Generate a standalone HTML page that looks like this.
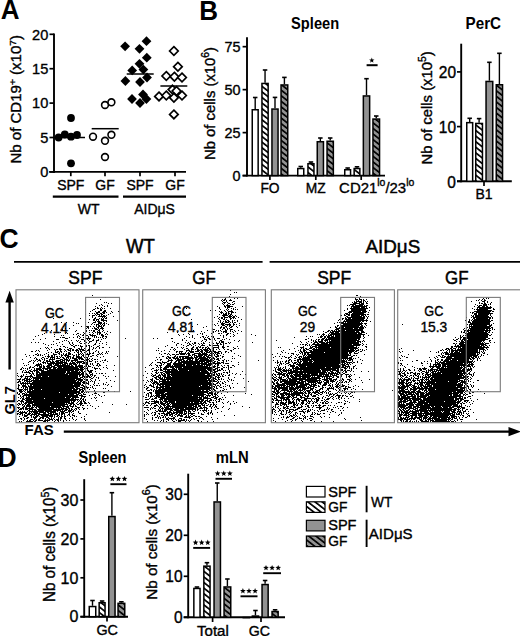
<!DOCTYPE html>
<html><head><meta charset="utf-8"><style>
html,body{margin:0;padding:0;background:#fff;width:520px;height:636px;overflow:hidden}
svg{display:block}
text{font-family:"Liberation Sans", sans-serif;fill:#000;stroke:#000;stroke-width:.35px}
text[font-weight=bold]{stroke-width:0}
</style></head><body>
<svg width="520" height="636" viewBox="0 0 520 636">
<rect width="520" height="636" fill="#fff"/>
<defs>
<pattern id="hw" patternUnits="userSpaceOnUse" width="4.4" height="4.4" patternTransform="rotate(-52)"><rect width="4.4" height="4.4" fill="#fff"/><rect width="1.7" height="4.4" fill="#000"/></pattern>
<pattern id="hg" patternUnits="userSpaceOnUse" width="4.4" height="4.4" patternTransform="rotate(-52)"><rect width="4.4" height="4.4" fill="#929292"/><rect width="1.7" height="4.4" fill="#000"/></pattern>
</defs>
<text transform="translate(0.8,18.5) scale(1,1.05)" font-size="26" text-anchor="start" font-weight="bold" >A</text>
<line x1="54" y1="33.5" x2="54" y2="172.9" stroke="#000" stroke-width="1.9"/>
<line x1="49.2" y1="171.9" x2="186" y2="171.9" stroke="#000" stroke-width="1.9"/>
<line x1="49.5" y1="171.9" x2="54" y2="171.9" stroke="#000" stroke-width="1.7"/>
<text transform="translate(48.3,177.20000000000002) scale(1,1.05)" font-size="14.6" text-anchor="end" >0</text>
<line x1="49.5" y1="137.5" x2="54" y2="137.5" stroke="#000" stroke-width="1.7"/>
<text transform="translate(48.3,142.8) scale(1,1.05)" font-size="14.6" text-anchor="end" >5</text>
<line x1="49.5" y1="103.10000000000001" x2="54" y2="103.10000000000001" stroke="#000" stroke-width="1.7"/>
<text transform="translate(48.3,108.4) scale(1,1.05)" font-size="14.6" text-anchor="end" >10</text>
<line x1="49.5" y1="68.7" x2="54" y2="68.7" stroke="#000" stroke-width="1.7"/>
<text transform="translate(48.3,74.0) scale(1,1.05)" font-size="14.6" text-anchor="end" >15</text>
<line x1="49.5" y1="34.30000000000001" x2="54" y2="34.30000000000001" stroke="#000" stroke-width="1.7"/>
<text transform="translate(48.3,39.60000000000001) scale(1,1.05)" font-size="14.6" text-anchor="end" >20</text>
<line x1="70.8" y1="171.9" x2="70.8" y2="176.2" stroke="#000" stroke-width="1.7"/>
<line x1="105" y1="171.9" x2="105" y2="176.2" stroke="#000" stroke-width="1.7"/>
<line x1="140" y1="171.9" x2="140" y2="176.2" stroke="#000" stroke-width="1.7"/>
<line x1="175" y1="171.9" x2="175" y2="176.2" stroke="#000" stroke-width="1.7"/>
<text transform="translate(70.8,189.7) scale(1,1.05)" font-size="14" text-anchor="middle" >SPF</text>
<text transform="translate(105,189.7) scale(1,1.05)" font-size="14" text-anchor="middle" >GF</text>
<text transform="translate(140,189.7) scale(1,1.05)" font-size="14" text-anchor="middle" >SPF</text>
<text transform="translate(175,189.7) scale(1,1.05)" font-size="14" text-anchor="middle" >GF</text>
<line x1="52.8" y1="196.6" x2="118.5" y2="196.6" stroke="#000" stroke-width="2.3"/>
<line x1="123" y1="196.6" x2="186" y2="196.6" stroke="#000" stroke-width="2.3"/>
<text transform="translate(88.7,213.8) scale(1,1.05)" font-size="14" text-anchor="middle" >WT</text>
<text transform="translate(154.6,213.8) scale(1,1.05)" font-size="14" text-anchor="middle" >AIDμS</text>
<text transform="translate(21.4,163.6) rotate(-90) scale(1,1.05)" font-size="14" textLength="128.6" lengthAdjust="spacingAndGlyphs">Nb of CD19<tspan dy="-5.5" font-size="9.5">+</tspan><tspan dy="5.5"> (x10</tspan><tspan dy="-5.5" font-size="9.5">7</tspan><tspan dy="5.5">)</tspan></text>
<circle cx="58.6" cy="137.5" r="3.9" fill="#000"/>
<circle cx="64.8" cy="134.5" r="3.9" fill="#000"/>
<circle cx="71" cy="136.7" r="3.9" fill="#000"/>
<circle cx="77" cy="135" r="3.9" fill="#000"/>
<circle cx="71" cy="118" r="3.9" fill="#000"/>
<circle cx="71" cy="163.3" r="3.9" fill="#000"/>
<circle cx="93" cy="136.7" r="3.4" fill="#fff" stroke="#000" stroke-width="1.6"/>
<circle cx="105" cy="140.8" r="3.4" fill="#fff" stroke="#000" stroke-width="1.6"/>
<circle cx="111.4" cy="134.8" r="3.4" fill="#fff" stroke="#000" stroke-width="1.6"/>
<circle cx="105" cy="105" r="3.4" fill="#fff" stroke="#000" stroke-width="1.6"/>
<circle cx="111.4" cy="102.3" r="3.4" fill="#fff" stroke="#000" stroke-width="1.6"/>
<circle cx="105" cy="157" r="3.4" fill="#fff" stroke="#000" stroke-width="1.6"/>
<path d="M125.1 41.4L130.0 46.3L125.1 51.199999999999996L120.19999999999999 46.3Z" fill="#000"/>
<path d="M139.5 43.9L144.4 48.8L139.5 53.699999999999996L134.6 48.8Z" fill="#000"/>
<path d="M146.5 36.300000000000004L151.4 41.2L146.5 46.1L141.6 41.2Z" fill="#000"/>
<path d="M146.8 52.800000000000004L151.70000000000002 57.7L146.8 62.6L141.9 57.7Z" fill="#000"/>
<path d="M139.5 58.9L144.4 63.8L139.5 68.7L134.6 63.8Z" fill="#000"/>
<path d="M132.2 65.5L137.1 70.4L132.2 75.30000000000001L127.29999999999998 70.4Z" fill="#000"/>
<path d="M143.4 64.69999999999999L148.3 69.6L143.4 74.5L138.5 69.6Z" fill="#000"/>
<path d="M125.4 76.1L130.3 81L125.4 85.9L120.5 81Z" fill="#000"/>
<path d="M140 77.1L144.9 82L140 86.9L135.1 82Z" fill="#000"/>
<path d="M147 72.6L151.9 77.5L147 82.4L142.1 77.5Z" fill="#000"/>
<path d="M132 94.1L136.9 99L132 103.9L127.1 99Z" fill="#000"/>
<path d="M140 98.1L144.9 103L140 107.9L135.1 103Z" fill="#000"/>
<path d="M146.4 94.1L151.3 99L146.4 103.9L141.5 99Z" fill="#000"/>
<path d="M143 89.6L147.9 94.5L143 99.4L138.1 94.5Z" fill="#000"/>
<path d="M173.9 46.7L178.20000000000002 51L173.9 55.3L169.6 51Z" fill="#fff" stroke="#000" stroke-width="1.7"/>
<path d="M177.9 62.400000000000006L182.20000000000002 66.7L177.9 71.0L173.6 66.7Z" fill="#fff" stroke="#000" stroke-width="1.7"/>
<path d="M166.3 71.7L170.60000000000002 76L166.3 80.3L162.0 76Z" fill="#fff" stroke="#000" stroke-width="1.7"/>
<path d="M174.4 72.4L178.70000000000002 76.7L174.4 81.0L170.1 76.7Z" fill="#fff" stroke="#000" stroke-width="1.7"/>
<path d="M182 73.2L186.3 77.5L182 81.8L177.7 77.5Z" fill="#fff" stroke="#000" stroke-width="1.7"/>
<path d="M159 92.10000000000001L163.3 96.4L159 100.7L154.7 96.4Z" fill="#fff" stroke="#000" stroke-width="1.7"/>
<path d="M166.3 91.2L170.60000000000002 95.5L166.3 99.8L162.0 95.5Z" fill="#fff" stroke="#000" stroke-width="1.7"/>
<path d="M172.5 85.3L176.8 89.6L172.5 93.89999999999999L168.2 89.6Z" fill="#fff" stroke="#000" stroke-width="1.7"/>
<path d="M176.5 86.7L180.8 91L176.5 95.3L172.2 91Z" fill="#fff" stroke="#000" stroke-width="1.7"/>
<path d="M182 91.2L186.3 95.5L182 99.8L177.7 95.5Z" fill="#fff" stroke="#000" stroke-width="1.7"/>
<path d="M173.9 93.4L178.20000000000002 97.7L173.9 102.0L169.6 97.7Z" fill="#fff" stroke="#000" stroke-width="1.7"/>
<path d="M173.9 110.10000000000001L178.20000000000002 114.4L173.9 118.7L169.6 114.4Z" fill="#fff" stroke="#000" stroke-width="1.7"/>
<line x1="54" y1="137.5" x2="85" y2="137.5" stroke="#000" stroke-width="1.5"/>
<line x1="91.7" y1="128.7" x2="118.7" y2="128.7" stroke="#000" stroke-width="1.5"/>
<line x1="126.7" y1="74" x2="153.7" y2="74" stroke="#000" stroke-width="1.5"/>
<line x1="160.4" y1="86" x2="187.3" y2="86" stroke="#000" stroke-width="1.5"/>
<text transform="translate(199.2,19.6) scale(1,1.05)" font-size="26" text-anchor="start" font-weight="bold" >B</text>
<text transform="translate(315.1,28.6) scale(1,1.05)" font-size="15" text-anchor="middle" font-weight="bold" textLength="48" lengthAdjust="spacingAndGlyphs" >Spleen</text>
<line x1="247" y1="37.2" x2="247" y2="176.6" stroke="#000" stroke-width="1.9"/>
<line x1="242.6" y1="175.6" x2="385" y2="175.6" stroke="#000" stroke-width="1.9"/>
<line x1="242.6" y1="175.6" x2="247" y2="175.6" stroke="#000" stroke-width="1.7"/>
<text transform="translate(240.6,180.79999999999998) scale(1,1.05)" font-size="14.4" text-anchor="end" >0</text>
<line x1="242.6" y1="132.625" x2="247" y2="132.625" stroke="#000" stroke-width="1.7"/>
<text transform="translate(240.6,137.825) scale(1,1.05)" font-size="14.4" text-anchor="end" >25</text>
<line x1="242.6" y1="89.64999999999999" x2="247" y2="89.64999999999999" stroke="#000" stroke-width="1.7"/>
<text transform="translate(240.6,94.85) scale(1,1.05)" font-size="14.4" text-anchor="end" >50</text>
<line x1="242.6" y1="46.67499999999998" x2="247" y2="46.67499999999998" stroke="#000" stroke-width="1.7"/>
<text transform="translate(240.6,51.874999999999986) scale(1,1.05)" font-size="14.4" text-anchor="end" >75</text>
<line x1="269.9" y1="175.6" x2="269.9" y2="180" stroke="#000" stroke-width="1.7"/>
<line x1="315.8" y1="175.6" x2="315.8" y2="180" stroke="#000" stroke-width="1.7"/>
<line x1="361.2" y1="175.6" x2="361.2" y2="180" stroke="#000" stroke-width="1.7"/>
<text transform="translate(270,192.8) scale(1,1.05)" font-size="13.8" text-anchor="middle" >FO</text>
<text transform="translate(315.8,192.8) scale(1,1.05)" font-size="13.8" text-anchor="middle" >MZ</text>
<text transform="translate(339.1,192.8) scale(1,1.05)" font-size="14.6" text-anchor="start" textLength="75.2" lengthAdjust="spacingAndGlyphs" >CD21<tspan dy="-6.4" font-size="10.2">lo</tspan><tspan dy="6.4">/23</tspan><tspan dy="-6.4" font-size="10.2">lo</tspan></text>
<text transform="translate(215,160) rotate(-90) scale(1,1.05)" font-size="14.5" textLength="113.0" lengthAdjust="spacingAndGlyphs">Nb of cells (x10<tspan dy="-5.5" font-size="10">6</tspan><tspan dy="5.5">)</tspan></text>
<line x1="255.2" y1="109" x2="255.2" y2="97.5" stroke="#000" stroke-width="1.4"/>
<line x1="252.95" y1="97.5" x2="257.45" y2="97.5" stroke="#000" stroke-width="1.6"/>
<rect x="252.25" y="109.75" width="5.90" height="65.85" fill="#fff" stroke="#000" stroke-width="1.5"/>
<line x1="265.04999999999995" y1="82.7" x2="265.04999999999995" y2="70" stroke="#000" stroke-width="1.4"/>
<line x1="262.79999999999995" y1="70" x2="267.29999999999995" y2="70" stroke="#000" stroke-width="1.6"/>
<rect x="261.95" y="83.45" width="6.20" height="92.15" fill="url(#hw)" stroke="#000" stroke-width="1.5"/>
<line x1="275.0" y1="108.3" x2="275.0" y2="97.4" stroke="#000" stroke-width="1.4"/>
<line x1="272.75" y1="97.4" x2="277.25" y2="97.4" stroke="#000" stroke-width="1.6"/>
<rect x="271.95" y="109.05" width="6.10" height="66.55" fill="#929292" stroke="#000" stroke-width="1.5"/>
<line x1="284.4" y1="84.2" x2="284.4" y2="77.4" stroke="#000" stroke-width="1.4"/>
<line x1="282.15" y1="77.4" x2="286.65" y2="77.4" stroke="#000" stroke-width="1.6"/>
<rect x="281.05" y="84.95" width="6.70" height="90.65" fill="url(#hg)" stroke="#000" stroke-width="1.5"/>
<line x1="300.75" y1="167.8" x2="300.75" y2="166.5" stroke="#000" stroke-width="1.4"/>
<line x1="298.5" y1="166.5" x2="303.0" y2="166.5" stroke="#000" stroke-width="1.6"/>
<rect x="297.75" y="168.55" width="6.00" height="7.05" fill="#fff" stroke="#000" stroke-width="1.5"/>
<line x1="310.95" y1="163" x2="310.95" y2="162" stroke="#000" stroke-width="1.4"/>
<line x1="308.7" y1="162" x2="313.2" y2="162" stroke="#000" stroke-width="1.6"/>
<rect x="307.95" y="163.75" width="6.00" height="11.85" fill="url(#hw)" stroke="#000" stroke-width="1.5"/>
<line x1="320.35" y1="141" x2="320.35" y2="138" stroke="#000" stroke-width="1.4"/>
<line x1="318.1" y1="138" x2="322.6" y2="138" stroke="#000" stroke-width="1.6"/>
<rect x="317.25" y="141.75" width="6.20" height="33.85" fill="#929292" stroke="#000" stroke-width="1.5"/>
<line x1="330.20000000000005" y1="140.5" x2="330.20000000000005" y2="138" stroke="#000" stroke-width="1.4"/>
<line x1="327.95000000000005" y1="138" x2="332.45000000000005" y2="138" stroke="#000" stroke-width="1.6"/>
<rect x="327.05" y="141.25" width="6.30" height="34.35" fill="url(#hg)" stroke="#000" stroke-width="1.5"/>
<line x1="347.65" y1="169" x2="347.65" y2="168" stroke="#000" stroke-width="1.4"/>
<line x1="345.4" y1="168" x2="349.9" y2="168" stroke="#000" stroke-width="1.6"/>
<rect x="344.75" y="169.75" width="5.80" height="5.85" fill="#fff" stroke="#000" stroke-width="1.5"/>
<line x1="357.0" y1="167.8" x2="357.0" y2="166.8" stroke="#000" stroke-width="1.4"/>
<line x1="354.75" y1="166.8" x2="359.25" y2="166.8" stroke="#000" stroke-width="1.6"/>
<rect x="354.15" y="168.55" width="5.70" height="7.05" fill="url(#hw)" stroke="#000" stroke-width="1.5"/>
<line x1="366.5" y1="95.2" x2="366.5" y2="78.7" stroke="#000" stroke-width="1.4"/>
<line x1="364.25" y1="78.7" x2="368.75" y2="78.7" stroke="#000" stroke-width="1.6"/>
<rect x="363.35" y="95.95" width="6.30" height="79.65" fill="#929292" stroke="#000" stroke-width="1.5"/>
<line x1="376.25" y1="118.3" x2="376.25" y2="116" stroke="#000" stroke-width="1.4"/>
<line x1="374.0" y1="116" x2="378.5" y2="116" stroke="#000" stroke-width="1.6"/>
<rect x="372.95" y="119.05" width="6.60" height="56.55" fill="url(#hg)" stroke="#000" stroke-width="1.5"/>
<line x1="366.6" y1="65.2" x2="377.6" y2="65.2" stroke="#000" stroke-width="2"/>
<polygon points="371.80,57.60 372.51,59.43 374.46,59.53 372.94,60.77 373.45,62.67 371.80,61.60 370.15,62.67 370.66,60.77 369.14,59.53 371.09,59.43" fill="#000"/>
<text transform="translate(483.3,28.7) scale(1,1.05)" font-size="15.2" text-anchor="middle" font-weight="bold" textLength="35.5" lengthAdjust="spacingAndGlyphs" >PerC</text>
<line x1="461.2" y1="43.7" x2="461.2" y2="182.3" stroke="#000" stroke-width="1.9"/>
<line x1="457" y1="181.3" x2="511.8" y2="181.3" stroke="#000" stroke-width="1.9"/>
<line x1="457" y1="181.3" x2="461.2" y2="181.3" stroke="#000" stroke-width="1.7"/>
<text transform="translate(456,187.60000000000002) scale(1,1.05)" font-size="15.5" text-anchor="end" >0</text>
<line x1="457" y1="126.60000000000002" x2="461.2" y2="126.60000000000002" stroke="#000" stroke-width="1.7"/>
<text transform="translate(456,132.90000000000003) scale(1,1.05)" font-size="15.5" text-anchor="end" >10</text>
<line x1="457" y1="71.90000000000002" x2="461.2" y2="71.90000000000002" stroke="#000" stroke-width="1.7"/>
<text transform="translate(456,78.20000000000002) scale(1,1.05)" font-size="15.5" text-anchor="end" >20</text>
<line x1="484" y1="181.3" x2="484" y2="186" stroke="#000" stroke-width="1.7"/>
<text transform="translate(484,199.2) scale(1,1.05)" font-size="14" text-anchor="middle" >B1</text>
<text transform="translate(431.8,164.5) rotate(-90) scale(1,1.05)" font-size="14.5" textLength="113.3" lengthAdjust="spacingAndGlyphs">Nb of cells (x10<tspan dy="-5.5" font-size="10">5</tspan><tspan dy="5.5">)</tspan></text>
<line x1="469.7" y1="121.9" x2="469.7" y2="118.3" stroke="#000" stroke-width="1.4"/>
<line x1="467.45" y1="118.3" x2="471.95" y2="118.3" stroke="#000" stroke-width="1.6"/>
<rect x="466.75" y="122.65" width="5.90" height="58.65" fill="#fff" stroke="#000" stroke-width="1.5"/>
<line x1="479.1" y1="122.7" x2="479.1" y2="118.6" stroke="#000" stroke-width="1.4"/>
<line x1="476.85" y1="118.6" x2="481.35" y2="118.6" stroke="#000" stroke-width="1.6"/>
<rect x="475.75" y="123.45" width="6.70" height="57.85" fill="url(#hw)" stroke="#000" stroke-width="1.5"/>
<line x1="489.4" y1="80.7" x2="489.4" y2="62.3" stroke="#000" stroke-width="1.4"/>
<line x1="487.15" y1="62.3" x2="491.65" y2="62.3" stroke="#000" stroke-width="1.6"/>
<rect x="486.05" y="81.45" width="6.70" height="99.85" fill="#929292" stroke="#000" stroke-width="1.5"/>
<line x1="499.4" y1="84" x2="499.4" y2="53.3" stroke="#000" stroke-width="1.4"/>
<line x1="497.15" y1="53.3" x2="501.65" y2="53.3" stroke="#000" stroke-width="1.6"/>
<rect x="496.25" y="84.75" width="6.30" height="96.55" fill="url(#hg)" stroke="#000" stroke-width="1.5"/>
<text transform="translate(-0.5,247.5) scale(1,1.05)" font-size="26.5" text-anchor="start" font-weight="bold" >C</text>
<text transform="translate(140.4,252.8) scale(1,1.05)" font-size="18.5" text-anchor="middle" textLength="28.8" lengthAdjust="spacingAndGlyphs" style="stroke-width:.5px">WT</text>
<text transform="translate(392.8,252.8) scale(1,1.05)" font-size="18.3" text-anchor="middle" textLength="54.8" lengthAdjust="spacingAndGlyphs" style="stroke-width:.45px">AIDμS</text>
<line x1="14" y1="261.8" x2="262.6" y2="261.8" stroke="#000" stroke-width="1.8"/>
<line x1="269.6" y1="261.8" x2="520" y2="261.8" stroke="#000" stroke-width="1.8"/>
<text transform="translate(85.3,283.5) scale(1,1.05)" font-size="18" text-anchor="middle" textLength="34" lengthAdjust="spacingAndGlyphs" style="stroke-width:.45px">SPF</text>
<text transform="translate(204,283.5) scale(1,1.05)" font-size="18" text-anchor="middle" textLength="23.5" lengthAdjust="spacingAndGlyphs" style="stroke-width:.45px">GF</text>
<text transform="translate(334.2,283.5) scale(1,1.05)" font-size="18" text-anchor="middle" textLength="34" lengthAdjust="spacingAndGlyphs" style="stroke-width:.45px">SPF</text>
<text transform="translate(456.8,283.5) scale(1,1.05)" font-size="18" text-anchor="middle" textLength="23.5" lengthAdjust="spacingAndGlyphs" style="stroke-width:.45px">GF</text>
<path d="M92 295.5h1m0 2h1m11 0h1m-6 2h1m-16 3h1m18 0h1m1 0h1m-11 1h1m11 0h1m2 0h1m-11 1h1m-3 1h1m2 0h1m4 0h1m-13 1h1m8 0h1m2 0h1m-11 1h1m3 0h1m-7 1h1m1 0h2m1 0h1m1 0h1m1 0h1m5 0h1m-18 1h2m5 0h2m-10 1h1m7 0h2m2 0h2m-16 1h1m4 0h1m2 0h2m3 0h3m5 0h1m6 0h1m-23 1h4m2 0h3m1 0h1m5 0h1m-24 1h1m2 0h1m1 0h1m1 0h2m2 0h2m1 0h2m5 0h1m-26 1h1m9 0h1m1 0h3m1 0h2m5 0h1m-20 1h1m2 0h3m1 0h1m2 0h1m1 0h1m1 0h2m1 0h1m-15 1h1m5 0h8m7 0h1m-22 1h1m2 0h1m6 0h1m1 0h1m1 0h1m-54 1h1m26 0h1m13 0h2m3 0h1m1 0h1m1 0h1m1 0h2m-18 1h1m3 0h2m1 0h3m2 0h3m-11 1h2m1 0h1m1 0h1m2 0h6m10 0h1m-23 1h1m1 0h3m3 0h1m2 0h1m-46 1h1m4 0h1m6 0h1m11 0h1m2 0h1m4 0h3m2 0h4m2 0h1m-29 1h1m1 0h1m13 0h1m5 0h4m1 0h2m1 0h1m-22 1h1m5 0h1m2 0h1m1 0h3m1 0h1m1 0h1m1 0h1m3 0h1m-36 1h1m22 0h1m1 0h2m1 0h1m1 0h2m-42 1h1m17 0h1m3 0h4m1 0h1m2 0h1m2 0h1m1 0h4m1 0h1m-17 1h2m5 0h1m2 0h2m2 0h2m-38 1h1m3 0h1m16 0h1m1 0h1m3 0h1m1 0h3m1 0h1m1 0h4m-42 1h1m32 0h3m1 0h1m2 0h1m-52 1h1m4 0h1m19 0h1m9 0h1m2 0h1m1 0h1m1 0h2m3 0h2m3 0h1m-29 1h1m9 0h2m6 0h2m2 0h1m1 0h1m2 0h1m4 0h1m-54 1h1m5 0h1m5 0h1m16 0h1m1 0h1m3 0h1m2 0h1m2 0h1m1 0h4m3 0h1m5 0h1m-67 1h1m20 0h1m1 0h1m9 0h2m5 0h1m8 0h1m3 0h1m1 0h2m5 0h1m-65 1h1m11 0h1m18 0h1m2 0h1m3 0h1m2 0h1m5 0h2m1 0h1m4 0h1m1 0h1m1 0h2m2 0h1m1 0h1m-70 1h1m22 0h1m1 0h1m14 0h1m3 0h2m2 0h2m2 0h6m5 0h3m-69 1h1m18 0h1m22 0h1m1 0h1m8 0h1m3 0h1m1 0h1m1 0h1m5 0h2m1 0h2m-47 1h1m1 0h3m4 0h1m3 0h1m3 0h1m2 0h1m2 0h1m1 0h1m2 0h1m5 0h1m1 0h1m1 0h1m1 0h1m1 0h1m3 0h1m-62 1h1m19 0h3m11 0h1m6 0h5m12 0h1m1 0h1m19 0h1m-93 1h1m6 0h1m15 0h3m22 0h3m3 0h1m1 0h1m3 0h1m4 0h1m2 0h1m-38 1h1m1 0h1m4 0h1m4 0h1m1 0h1m5 0h1m3 0h1m3 0h2m2 0h3m-46 1h1m8 0h1m5 0h1m8 0h1m2 0h1m3 0h1m4 0h3m4 0h1m3 0h1m-70 1h1m3 0h1m2 0h1m20 0h1m9 0h1m2 0h1m6 0h1m5 0h2m2 0h1m6 0h1m9 0h1m-64 1h1m12 0h1m12 0h1m2 0h1m7 0h2m2 0h1m3 0h1m6 0h1m3 0h1m2 0h1m-58 1h1m5 0h1m1 0h1m8 0h1m7 0h1m2 0h1m20 0h2m10 0h1m-59 1h1m8 0h1m13 0h2m2 0h2m1 0h1m1 0h1m5 0h1m1 0h2m3 0h1m5 0h1m-40 1h1m2 0h2m8 0h2m5 0h3m2 0h2m2 0h1m1 0h1m5 0h2m-54 1h1m1 0h1m3 0h1m13 0h1m1 0h1m6 0h1m6 0h1m7 0h1m3 0h1m2 0h1m2 0h1m2 0h2m5 0h1m-70 1h1m5 0h1m1 0h1m10 0h2m8 0h3m6 0h2m1 0h1m2 0h1m4 0h1m3 0h1m1 0h1m3 0h1m-51 1h1m4 0h1m1 0h2m1 0h3m2 0h1m2 0h2m1 0h1m1 0h2m2 0h2m1 0h5m1 0h1m2 0h2m2 0h1m-57 1h1m1 0h1m8 0h1m7 0h1m4 0h1m4 0h1m2 0h3m1 0h2m1 0h4m1 0h1m1 0h3m2 0h3m6 0h1m-66 1h2m2 0h1m3 0h1m15 0h1m1 0h2m1 0h2m2 0h1m1 0h1m3 0h1m5 0h1m1 0h1m1 0h2m3 0h2m2 0h1m5 0h1m2 0h1m7 0h1m1 0h1m-61 1h1m2 0h1m3 0h3m1 0h1m1 0h1m6 0h2m4 0h1m2 0h2m2 0h1m2 0h2m3 0h1m3 0h1m4 0h1m3 0h1m3 0h1m-70 1h1m8 0h1m6 0h1m4 0h2m3 0h1m2 0h1m1 0h3m7 0h1m1 0h1m1 0h1m2 0h1m1 0h1m1 0h2m1 0h2m5 0h1m1 0h1m3 0h1m1 0h1m-83 1h1m9 0h2m1 0h1m1 0h1m3 0h1m3 0h1m4 0h4m2 0h1m1 0h1m1 0h1m1 0h2m1 0h3m1 0h1m3 0h1m1 0h2m1 0h1m1 0h1m2 0h4m7 0h2m1 0h1m1 0h1m-74 1h1m3 0h1m3 0h2m1 0h1m1 0h1m5 0h1m2 0h2m1 0h1m6 0h2m1 0h5m4 0h2m1 0h1m1 0h1m3 0h2m4 0h1m3 0h2m2 0h1m-71 1h1m18 0h1m1 0h3m1 0h2m1 0h1m1 0h2m1 0h1m1 0h1m3 0h1m1 0h4m2 0h1m2 0h4m1 0h1m1 0h1m1 0h1m2 0h1m1 0h2m5 0h1m5 0h1m13 0h1m-88 1h1m4 0h1m6 0h2m4 0h1m1 0h5m2 0h1m2 0h1m1 0h2m2 0h3m1 0h1m1 0h2m2 0h6m2 0h1m1 0h2m12 0h1m18 0h1m-86 1h1m1 0h1m4 0h1m2 0h1m1 0h2m2 0h1m1 0h1m1 0h1m1 0h4m3 0h2m1 0h1m1 0h1m1 0h1m1 0h5m1 0h5m2 0h1m1 0h1m1 0h1m2 0h1m-71 1h1m13 0h2m1 0h1m2 0h1m1 0h1m4 0h6m5 0h3m1 0h4m1 0h1m4 0h4m1 0h1m1 0h3m1 0h4m2 0h1m2 0h2m1 0h1m7 0h1m-75 1h1m1 0h1m1 0h1m2 0h3m3 0h1m1 0h2m1 0h1m2 0h1m3 0h5m1 0h3m1 0h4m1 0h7m6 0h1m1 0h2m1 0h1m2 0h1m9 0h1m1 0h2m-77 1h2m3 0h1m2 0h1m2 0h1m2 0h1m2 0h5m1 0h2m1 0h4m1 0h3m1 0h1m1 0h1m1 0h1m2 0h2m2 0h1m1 0h7m1 0h1m1 0h1m1 0h3m3 0h1m1 0h1m2 0h1m6 0h1m-80 1h1m4 0h1m8 0h4m1 0h1m2 0h5m1 0h11m3 0h1m1 0h3m1 0h6m1 0h2m1 0h2m7 0h1m7 0h1m-81 1h1m9 0h1m4 0h1m1 0h1m2 0h1m1 0h1m1 0h16m1 0h4m1 0h7m1 0h1m1 0h1m2 0h3m1 0h2m2 0h1m1 0h1m4 0h2m-71 1h1m7 0h6m6 0h4m1 0h1m1 0h4m1 0h1m1 0h4m1 0h1m1 0h3m1 0h4m2 0h1m6 0h2m2 0h1m1 0h1m4 0h1m1 0h1m-76 1h1m1 0h1m8 0h5m1 0h1m1 0h1m3 0h5m2 0h16m1 0h2m2 0h2m1 0h5m2 0h2m1 0h1m4 0h1m2 0h2m1 0h2m5 0h1m7 0h1m-85 1h1m3 0h1m2 0h1m1 0h3m1 0h2m1 0h4m1 0h4m2 0h17m1 0h8m1 0h1m1 0h1m1 0h3m7 0h1m-77 1h1m6 0h2m1 0h2m5 0h3m1 0h2m2 0h5m1 0h4m1 0h4m1 0h15m1 0h5m1 0h1m1 0h1m4 0h1m1 0h1m8 0h1m2 0h1m-86 1h1m1 0h1m1 0h1m1 0h1m1 0h1m4 0h1m1 0h5m1 0h9m2 0h3m1 0h22m1 0h3m1 0h4m6 0h4m1 0h1m7 0h1m-88 1h2m5 0h1m3 0h1m2 0h1m1 0h6m1 0h1m1 0h3m1 0h35m1 0h1m1 0h1m7 0h1m4 0h1m-78 1h1m1 0h1m3 0h2m2 0h5m1 0h5m3 0h27m1 0h4m1 0h3m2 0h1m1 0h2m1 0h3m20 0h1m-92 1h1m3 0h1m1 0h1m1 0h3m1 0h1m1 0h3m2 0h25m1 0h3m1 0h7m1 0h1m1 0h2m1 0h2m2 0h4m3 0h1m-74 1h1m1 0h6m2 0h1m3 0h4m1 0h25m1 0h14m1 0h2m1 0h1m3 0h3m-75 1h1m11 0h2m1 0h2m2 0h2m1 0h26m1 0h14m1 0h3m1 0h2m2 0h1m2 0h1m3 0h1m2 0h1m1 0h2m2 0h1m-83 1h1m2 0h1m4 0h1m1 0h1m2 0h32m1 0h15m1 0h3m2 0h3m-76 1h1m3 0h1m1 0h1m6 0h2m2 0h1m1 0h42m1 0h2m1 0h2m3 0h2m1 0h1m1 0h1m1 0h2m7 0h1m-86 1h1m1 0h3m2 0h8m3 0h5m1 0h6m1 0h29m1 0h1m2 0h8m1 0h1m2 0h1m10 0h1m2 0h1m6 0h1m-95 1h1m3 0h1m1 0h1m2 0h1m1 0h46m2 0h3m1 0h1m1 0h2m1 0h2m2 0h1m2 0h1m1 0h1m-79 1h1m3 0h4m1 0h1m1 0h1m1 0h48m2 0h1m7 0h2m5 0h1m7 0h1m-90 1h4m1 0h3m1 0h5m2 0h1m1 0h4m1 0h35m1 0h7m1 0h1m1 0h2m2 0h1m4 0h1m-77 1h1m2 0h1m1 0h4m1 0h1m1 0h46m1 0h5m3 0h2m3 0h1m3 0h1m3 0h1m10 0h1m-93 1h3m3 0h1m1 0h6m1 0h43m1 0h2m1 0h2m1 0h2m3 0h1m1 0h1m1 0h1m1 0h1m19 0h1m-98 1h2m1 0h1m1 0h2m1 0h1m1 0h1m1 0h1m2 0h49m1 0h5m1 0h1m5 0h1m11 0h1m-87 1h61m2 0h2m1 0h3m5 0h1m3 0h1m4 0h1m-86 1h1m2 0h1m1 0h1m1 0h1m1 0h1m2 0h43m1 0h7m1 0h1m2 0h1m2 0h1m4 0h1m9 0h1m1 0h1m2 0h1m10 0h1m-102 1h2m2 0h4m2 0h1m1 0h2m1 0h47m1 0h3m6 0h1m3 0h1m1 0h2m1 0h1m7 0h1m-90 1h1m3 0h5m1 0h52m3 0h2m1 0h1m5 0h1m18 0h1m-94 1h1m2 0h1m1 0h1m1 0h3m1 0h45m1 0h3m2 0h3m1 0h1m1 0h3m1 0h1m1 0h1m-76 1h2m4 0h1m1 0h1m1 0h1m1 0h46m1 0h4m2 0h3m2 0h1m5 0h1m1 0h1m7 0h1m1 0h1m-88 1h5m1 0h4m1 0h4m1 0h7m1 0h30m1 0h5m1 0h4m1 0h1m4 0h1m-71 1h3m1 0h1m1 0h1m1 0h1m1 0h2m1 0h45m2 0h2m1 0h2m1 0h1m8 0h1m13 0h1m-90 1h4m1 0h1m2 0h53m1 0h3m1 0h1m1 0h1m6 0h1m19 0h1m15 0h1m-114 1h1m2 0h2m3 0h1m1 0h32m1 0h20m1 0h2m1 0h1m1 0h1m1 0h1m6 0h1m7 0h2m-88 1h1m1 0h1m2 0h3m1 0h1m2 0h48m1 0h3m2 0h1m10 0h3m-79 1h2m2 0h1m1 0h44m1 0h5m2 0h3m2 0h1m1 0h3m6 0h1m5 0h1m-79 1h1m2 0h55m1 0h4m6 0h1m5 0h1m3 0h1m4 0h1m-85 1h1m1 0h2m2 0h1m1 0h50m3 0h5m15 0h1m-84 1h1m2 0h1m1 0h1m2 0h4m1 0h34m1 0h5m1 0h7m2 0h1m2 0h1m9 0h1m1 0h1m-77 1h1m1 0h2m1 0h19m1 0h25m1 0h3m1 0h1m4 0h2m1 0h1m7 0h1m3 0h1m-74 1h3m1 0h53m1 0h1m1 0h2m1 0h1m-68 1h2m1 0h2m2 0h7m1 0h43m1 0h1m1 0h1m1 0h1m1 0h1m1 0h1m10 0h1m-80 1h1m2 0h4m2 0h44m1 0h1m1 0h2m3 0h1m1 0h2m1 0h2m-64 1h1m1 0h1m1 0h27m1 0h17m1 0h3m3 0h1m2 0h2m2 0h2m2 0h1m13 0h1m-85 1h2m1 0h1m2 0h3m1 0h5m1 0h31m1 0h1m1 0h6m2 0h1m2 0h4m1 0h3m2 0h1m-73 1h1m1 0h2m1 0h2m1 0h1m1 0h3m2 0h36m2 0h2m1 0h2m2 0h2m1 0h2m30 0h1m13 0h1m-109 1h1m3 0h1m1 0h1m1 0h5m1 0h33m2 0h1m1 0h2m2 0h1m1 0h1m4 0h1m1 0h2m3 0h1m2 0h1m-68 1h2m1 0h5m1 0h1m1 0h1m1 0h14m1 0h10m1 0h7m1 0h4m1 0h2m15 0h1m5 0h1m-82 1h3m2 0h2m1 0h2m2 0h1m1 0h3m1 0h2m1 0h24m1 0h1m2 0h3m3 0h1m4 0h3m2 0h1m-65 1h1m1 0h4m1 0h8m3 0h1m2 0h15m2 0h1m1 0h2m1 0h6m1 0h2m1 0h1m3 0h2m1 0h1m4 0h2m2 0h1m7 0h1m-77 1h3m1 0h1m1 0h3m1 0h7m1 0h27m1 0h3m1 0h1m1 0h2m1 0h1m1 0h1m2 0h1m3 0h1m-66 1h1m9 0h2m2 0h1m1 0h3m1 0h14m1 0h8m1 0h1m1 0h3m1 0h4m1 0h1m1 0h1m-59 1h2m1 0h1m1 0h1m1 0h1m2 0h1m1 0h15m1 0h11m1 0h1m2 0h5m3 0h3m1 0h2m4 0h1m-60 1h8m2 0h1m1 0h1m1 0h5m1 0h7m1 0h2m1 0h6m3 0h1m1 0h3m1 0h3m1 0h1m1 0h1m6 0h1m30 0h1m-93 1h2m1 0h3m2 0h2m1 0h3m1 0h1m1 0h6m3 0h3m2 0h4m1 0h1m1 0h3m1 0h1m1 0h4m4 0h1m3 0h1m5 0h2m-64 1h1m1 0h2m1 0h1m1 0h1m2 0h3m1 0h6m1 0h11m1 0h8m1 0h1m1 0h2m1 0h1m3 0h2m2 0h1m13 0h1m-65 1h1m1 0h4m2 0h2m2 0h1m1 0h3m2 0h12m1 0h1m2 0h2m2 0h1m2 0h1m2 0h1m1 0h1m2 0h3m-56 1h1m4 0h3m4 0h1m1 0h1m1 0h3m1 0h1m2 0h6m1 0h4m1 0h1m1 0h2m1 0h1m1 0h2m1 0h2m4 0h1m3 0h1m1 0h1m7 0h1m-62 1h1m3 0h2m2 0h1m1 0h4m3 0h4m2 0h3m2 0h1m2 0h1m3 0h1m1 0h2m2 0h1m7 0h1m8 0h1m-62 1h2m2 0h1m1 0h2m6 0h2m3 0h2m1 0h2m1 0h1m2 0h2m1 0h1m1 0h1m4 0h1m1 0h2m2 0h2m3 0h1m2 0h1m11 0h1m-67 1h1m2 0h1m2 0h1m5 0h3m1 0h1m1 0h1m1 0h2m5 0h1m1 0h1m1 0h4m1 0h1m1 0h3m1 0h1m4 0h1m7 0h1m2 0h1m7 0h1m-62 1h1m3 0h1m1 0h2m2 0h1m1 0h2m1 0h5m1 0h6m2 0h1m2 0h1m1 0h2m1 0h1m2 0h1m2 0h1m2 0h1m5 0h1m9 0h1m-67 1h1m1 0h1m4 0h7m1 0h2m7 0h3m1 0h1m6 0h1m3 0h1m4 0h1" stroke="#000" stroke-width="1" fill="none"/><path d="M230 290.5h1m3 2h1m1 0h1m-7 2h1m-2 2h1m-5 2h1m8 0h1m2 0h1m-16 1h1m1 0h2m4 0h1m-10 1h1m1 0h2m1 0h1m2 0h3m-10 1h1m3 0h1m6 0h2m-12 1h3m1 0h1m4 0h1m-11 1h1m1 0h1m3 0h2m4 0h1m-12 1h1m3 0h1m2 0h1m1 0h2m-10 1h1m1 0h4m-13 1h1m6 0h2m1 0h6m9 0h1m-24 1h1m5 0h1m1 0h3m5 0h1m-50 1h1m32 0h1m7 0h1m3 0h1m1 0h1m-14 1h1m5 0h1m1 0h1m4 0h1m1 0h1m1 0h1m-28 1h1m4 0h1m8 0h1m2 0h1m3 0h1m-13 1h1m1 0h1m3 0h1m2 0h5m-13 1h3m3 0h1m1 0h1m2 0h3m1 0h1m-52 1h1m36 0h1m1 0h1m1 0h2m1 0h2m1 0h1m-13 1h1m3 0h4m1 0h1m1 0h2m-10 1h6m1 0h2m1 0h1m2 0h1m-19 1h1m5 0h2m3 0h4m1 0h2m1 0h1m-23 1h1m4 0h1m1 0h2m1 0h4m1 0h2m1 0h3m3 0h1m-21 1h1m2 0h2m1 0h1m5 0h2m1 0h1m1 0h1m-45 1h1m27 0h1m3 0h2m1 0h1m3 0h1m10 0h1m-22 1h1m4 0h1m1 0h2m3 0h1m1 0h1m2 0h1m-26 1h1m5 0h1m1 0h1m2 0h1m1 0h2m1 0h2m2 0h1m4 0h1m-18 1h1m1 0h1m2 0h4m1 0h1m1 0h1m1 0h2m-19 1h1m3 0h4m4 0h1m3 0h1m5 0h1m-43 1h1m14 0h1m1 0h1m6 0h3m1 0h6m2 0h2m1 0h1m-22 1h1m2 0h1m3 0h3m2 0h1m1 0h2m2 0h1m5 0h1m-48 1h1m13 0h1m14 0h1m3 0h2m2 0h1m1 0h2m3 0h1m-34 1h1m16 0h2m1 0h2m1 0h1m3 0h2m5 0h1m-58 1h1m31 0h1m7 0h1m2 0h2m2 0h1m1 0h1m-18 1h3m7 0h1m2 0h1m1 0h1m2 0h3m-40 1h1m13 0h1m8 0h1m1 0h1m1 0h1m4 0h2m3 0h1m3 0h1m3 0h1m-38 1h1m11 0h1m1 0h1m2 0h1m2 0h1m1 0h4m3 0h1m1 0h1m2 0h1m5 0h1m-75 1h1m9 0h1m26 0h1m8 0h1m9 0h1m1 0h2m6 0h1m-46 1h1m11 0h1m1 0h1m8 0h1m6 0h2m1 0h1m5 0h2m1 0h1m6 0h1m-60 1h1m4 0h1m5 0h1m7 0h1m4 0h1m23 0h2m5 0h1m17 0h1m-73 1h1m12 0h1m13 0h1m13 0h1m2 0h1m2 0h1m7 0h1m20 0h1m-70 1h1m5 0h1m9 0h2m4 0h1m2 0h1m1 0h1m9 0h1m6 0h1m2 0h1m-45 1h1m2 0h1m7 0h1m2 0h1m1 0h1m1 0h1m5 0h1m9 0h1m-71 1h1m3 0h1m13 0h2m11 0h1m9 0h1m9 0h1m3 0h2m4 0h1m2 0h3m6 0h1m-45 1h1m21 0h3m2 0h2m3 0h1m7 0h1m1 0h1m4 0h1m-48 1h1m3 0h1m15 0h1m3 0h1m8 0h1m4 0h2m12 0h1m4 0h1m-68 1h1m17 0h1m10 0h1m3 0h1m13 0h1m1 0h3m14 0h1m-65 1h1m10 0h1m2 0h1m5 0h2m7 0h1m5 0h1m2 0h1m3 0h1m2 0h1m1 0h3m4 0h1m1 0h1m21 0h1m-76 1h2m8 0h1m1 0h1m2 0h1m1 0h2m2 0h1m2 0h1m1 0h2m8 0h1m2 0h3m1 0h1m2 0h1m1 0h2m2 0h1m-54 1h1m4 0h1m7 0h2m2 0h1m5 0h1m2 0h1m6 0h1m7 0h1m2 0h2m1 0h1m-57 1h1m8 0h1m6 0h1m3 0h2m2 0h1m3 0h1m5 0h4m4 0h2m1 0h7m4 0h1m-59 1h1m20 0h1m6 0h1m4 0h1m1 0h1m6 0h1m4 0h1m5 0h1m3 0h2m3 0h2m8 0h1m-67 1h2m4 0h1m3 0h1m1 0h1m8 0h2m2 0h2m1 0h2m1 0h2m1 0h2m1 0h1m4 0h6m3 0h3m8 0h1m-76 1h1m15 0h1m7 0h1m3 0h2m3 0h2m3 0h2m4 0h1m2 0h1m1 0h3m2 0h2m4 0h1m4 0h1m10 0h2m2 0h1m-69 1h1m2 0h1m1 0h1m8 0h1m3 0h1m2 0h3m1 0h1m1 0h2m1 0h2m1 0h5m1 0h2m2 0h1m2 0h1m2 0h1m4 0h1m2 0h2m4 0h1m-78 1h1m1 0h1m5 0h1m9 0h1m11 0h4m1 0h1m5 0h3m1 0h2m1 0h5m1 0h1m1 0h2m16 0h2m-71 1h1m7 0h1m6 0h2m1 0h4m3 0h1m2 0h5m1 0h4m1 0h3m2 0h3m1 0h3m1 0h3m2 0h3m4 0h2m4 0h1m-56 1h1m2 0h1m1 0h1m3 0h1m2 0h1m1 0h4m5 0h1m1 0h2m1 0h1m1 0h4m1 0h2m1 0h5m2 0h1m3 0h1m2 0h1m-70 1h1m4 0h2m2 0h1m10 0h7m1 0h3m4 0h7m1 0h5m3 0h4m1 0h1m1 0h3m1 0h1m12 0h1m-74 1h1m5 0h1m1 0h1m2 0h3m1 0h3m1 0h5m1 0h1m1 0h2m2 0h3m3 0h10m1 0h1m1 0h2m1 0h1m1 0h2m5 0h1m-54 1h1m4 0h1m12 0h3m1 0h1m1 0h3m1 0h5m1 0h3m1 0h5m1 0h1m2 0h2m1 0h1m17 0h1m-77 1h2m3 0h2m5 0h2m1 0h1m1 0h10m2 0h1m2 0h1m1 0h6m1 0h2m1 0h3m2 0h2m2 0h4m3 0h2m8 0h1m7 0h1m-85 1h1m2 0h1m6 0h1m1 0h3m1 0h3m1 0h2m1 0h2m1 0h2m1 0h8m1 0h4m1 0h7m1 0h4m1 0h2m2 0h1m5 0h1m-57 1h2m1 0h2m2 0h6m1 0h1m1 0h12m1 0h2m1 0h10m1 0h1m1 0h4m2 0h2m1 0h1m11 0h1m1 0h1m-78 1h1m2 0h2m6 0h1m2 0h1m3 0h1m1 0h7m3 0h4m1 0h1m2 0h4m1 0h9m1 0h3m1 0h1m1 0h3m5 0h1m-70 1h1m4 0h1m7 0h5m3 0h6m1 0h2m1 0h2m1 0h4m2 0h3m1 0h15m4 0h2m2 0h2m2 0h1m1 0h1m29 0h1m-97 1h1m4 0h2m2 0h1m3 0h2m1 0h2m1 0h24m1 0h7m1 0h2m1 0h1m5 0h1m2 0h1m4 0h1m-80 1h1m4 0h4m1 0h5m3 0h2m2 0h2m2 0h22m1 0h2m1 0h5m1 0h1m1 0h3m2 0h3m1 0h3m14 0h1m-88 1h1m8 0h2m2 0h1m2 0h4m2 0h9m1 0h24m1 0h13m2 0h1m1 0h4m-79 1h1m4 0h1m5 0h1m1 0h1m3 0h4m2 0h12m1 0h10m1 0h3m1 0h11m3 0h1m1 0h2m19 0h1m-90 1h1m1 0h1m4 0h2m1 0h3m4 0h5m1 0h1m1 0h11m1 0h6m1 0h10m1 0h1m1 0h5m3 0h1m2 0h2m2 0h1m2 0h1m2 0h2m3 0h2m-77 1h1m2 0h1m4 0h43m1 0h1m2 0h4m1 0h1m4 0h1m5 0h1m5 0h1m-90 1h1m10 0h1m1 0h1m1 0h2m2 0h5m1 0h4m1 0h7m1 0h29m1 0h2m2 0h3m3 0h2m1 0h1m1 0h1m1 0h2m-80 1h2m6 0h1m2 0h4m5 0h3m1 0h1m1 0h35m2 0h3m3 0h2m5 0h1m-78 1h1m4 0h1m1 0h1m1 0h2m1 0h14m1 0h28m1 0h9m1 0h1m1 0h1m1 0h2m5 0h1m-75 1h4m2 0h3m2 0h1m1 0h3m1 0h7m1 0h9m1 0h18m1 0h4m1 0h2m2 0h4m2 0h1m1 0h1m3 0h1m-85 1h1m6 0h1m3 0h1m6 0h37m1 0h7m2 0h3m1 0h4m11 0h1m12 0h1m-88 1h2m1 0h1m1 0h3m2 0h44m1 0h1m1 0h4m7 0h2m1 0h2m1 0h1m-83 1h1m3 0h1m4 0h2m3 0h1m1 0h2m1 0h4m1 0h42m1 0h1m1 0h1m1 0h2m1 0h1m5 0h1m4 0h1m3 0h1m-85 1h1m2 0h1m3 0h1m1 0h2m1 0h2m1 0h38m2 0h3m1 0h4m1 0h2m1 0h1m1 0h1m1 0h1m5 0h1m5 0h1m4 0h1m4 0h1m-103 1h1m7 0h1m1 0h3m2 0h3m1 0h4m1 0h3m1 0h44m2 0h3m2 0h1m2 0h1m2 0h2m-78 1h2m2 0h3m1 0h1m2 0h3m1 0h4m1 0h40m3 0h2m1 0h1m1 0h1m1 0h2m-78 1h1m7 0h3m1 0h3m1 0h1m1 0h45m1 0h4m1 0h1m1 0h3m8 0h1m5 0h1m-83 1h1m2 0h2m2 0h4m1 0h1m1 0h45m1 0h4m2 0h1m2 0h1m6 0h1m14 0h1m-94 1h3m3 0h3m1 0h47m1 0h2m1 0h3m1 0h2m1 0h2m1 0h1m1 0h1m5 0h1m1 0h1m-89 1h1m3 0h1m3 0h2m1 0h1m4 0h1m2 0h4m1 0h2m1 0h45m2 0h1m9 0h1m3 0h1m1 0h1m-86 1h1m1 0h1m1 0h1m1 0h3m2 0h49m1 0h8m1 0h1m1 0h1m3 0h1m3 0h1m19 0h1m-103 1h1m4 0h1m1 0h5m1 0h1m2 0h49m1 0h1m4 0h2m3 0h1m2 0h1m-74 1h3m1 0h3m1 0h52m1 0h1m2 0h2m1 0h1m2 0h2m8 0h1m4 0h1m-93 1h1m4 0h1m2 0h1m1 0h1m1 0h55m1 0h3m4 0h1m4 0h1m-82 1h1m4 0h3m1 0h1m3 0h1m1 0h2m1 0h2m1 0h36m1 0h6m1 0h4m2 0h1m1 0h2m1 0h1m6 0h1m1 0h1m-84 1h1m4 0h3m2 0h2m2 0h10m1 0h28m1 0h10m1 0h4m1 0h1m2 0h1m3 0h1m1 0h1m3 0h1m-86 1h1m2 0h2m4 0h2m1 0h8m1 0h48m1 0h1m1 0h1m3 0h2m8 0h1m2 0h1m10 0h1m-99 1h2m8 0h2m1 0h2m1 0h50m1 0h1m2 0h2m5 0h1m6 0h1m-85 1h1m3 0h2m2 0h1m1 0h1m1 0h52m1 0h1m1 0h2m9 0h1m1 0h1m-80 1h3m1 0h1m1 0h1m1 0h46m1 0h2m2 0h2m1 0h2m1 0h1m1 0h2m4 0h1m1 0h2m-71 1h1m1 0h54m2 0h1m1 0h1m1 0h2m1 0h3m4 0h1m-82 1h1m4 0h3m3 0h10m2 0h41m1 0h4m2 0h1m1 0h2m8 0h1m-81 1h2m1 0h2m3 0h9m1 0h39m3 0h6m1 0h2m1 0h1m3 0h1m23 0h1m-100 1h1m1 0h1m2 0h1m4 0h4m1 0h45m2 0h1m2 0h2m1 0h3m34 0h1m-106 1h1m1 0h1m2 0h1m1 0h1m1 0h11m1 0h25m1 0h11m2 0h5m1 0h1m2 0h1m1 0h1m6 0h1m8 0h1m-91 1h1m4 0h1m1 0h3m1 0h1m1 0h4m1 0h37m1 0h1m1 0h3m1 0h1m1 0h1m1 0h1m3 0h3m2 0h1m-74 1h2m3 0h1m4 0h2m1 0h7m1 0h36m1 0h5m3 0h3m1 0h3m4 0h1m2 0h1m-77 1h1m2 0h1m1 0h3m3 0h38m1 0h3m1 0h8m3 0h3m2 0h2m-76 1h4m2 0h3m5 0h4m1 0h40m3 0h1m2 0h2m4 0h1m1 0h2m1 0h1m1 0h1m-70 1h1m1 0h1m3 0h1m1 0h1m1 0h3m1 0h32m1 0h3m1 0h3m1 0h3m1 0h1m1 0h1m3 0h1m-74 1h1m2 0h1m1 0h8m1 0h2m1 0h12m1 0h27m1 0h2m1 0h3m6 0h1m1 0h2m8 0h1m4 0h1m-89 1h4m5 0h5m1 0h3m2 0h3m1 0h6m1 0h14m1 0h2m1 0h5m1 0h2m1 0h3m3 0h2m1 0h2m2 0h1m5 0h1m4 0h1m8 0h1m-94 1h1m1 0h1m2 0h2m1 0h5m2 0h1m1 0h6m1 0h3m1 0h33m1 0h2m6 0h1m9 0h1m6 0h1m3 0h1m-91 1h1m6 0h1m4 0h1m2 0h1m1 0h4m1 0h3m1 0h1m1 0h27m2 0h2m1 0h1m3 0h1m1 0h2m1 0h2m1 0h1m13 0h1m-88 1h1m2 0h2m2 0h1m3 0h4m2 0h1m2 0h3m1 0h3m2 0h22m1 0h2m1 0h3m1 0h3m1 0h2m2 0h1m2 0h1m1 0h1m-62 1h2m2 0h1m1 0h2m2 0h1m1 0h21m1 0h4m1 0h4m1 0h3m3 0h1m4 0h2m1 0h1m2 0h2m6 0h1m18 0h1m-99 1h5m2 0h1m1 0h1m5 0h2m1 0h1m1 0h5m1 0h1m1 0h22m1 0h3m2 0h2m1 0h4m4 0h1m2 0h1m1 0h1m5 0h1m26 0h1m-100 1h1m1 0h1m1 0h2m3 0h1m1 0h3m1 0h8m2 0h9m1 0h11m1 0h1m1 0h4m1 0h1m1 0h2m3 0h1m5 0h2m10 0h1m-83 1h1m2 0h1m7 0h1m1 0h1m1 0h1m1 0h8m1 0h6m1 0h16m1 0h2m5 0h1m1 0h1m8 0h1m12 0h1m-81 1h1m6 0h1m2 0h3m1 0h1m1 0h3m3 0h3m1 0h12m2 0h2m2 0h1m2 0h1m1 0h1m2 0h1m1 0h5m1 0h1m2 0h1m-68 1h1m11 0h2m1 0h7m1 0h1m1 0h2m2 0h1m2 0h7m1 0h3m1 0h3m2 0h2m8 0h1m2 0h1m4 0h1m9 0h1m-76 1h1m5 0h1m1 0h2m7 0h1m3 0h5m1 0h10m1 0h1m1 0h1m1 0h1m1 0h1m7 0h1m5 0h1m3 0h1m1 0h2m5 0h1m-71 1h1m3 0h1m3 0h1m2 0h2m1 0h4m1 0h4m1 0h4m1 0h2m1 0h4m1 0h3m1 0h7m3 0h1m2 0h1m5 0h2m1 0h1m1 0h1m-69 1h1m1 0h1m1 0h1m5 0h2m3 0h1m4 0h4m1 0h4m2 0h2m1 0h2m1 0h1m1 0h3m2 0h1m2 0h2m8 0h3m4 0h1m3 0h1m-69 1h1m7 0h1m1 0h1m2 0h1m3 0h2m1 0h1m1 0h2m1 0h2m1 0h1m1 0h1m2 0h6m3 0h1m1 0h1m1 0h1m2 0h2m29 0h1m9 0h1m-91 1h1m12 0h1m1 0h1m3 0h1m1 0h1m5 0h2m2 0h1m1 0h1m2 0h3m2 0h2m1 0h2m1 0h2m2 0h2m1 0h2m6 0h1m-55 1h1m2 0h2m1 0h1m1 0h1m1 0h2m1 0h1m2 0h1m4 0h2m9 0h7m9 0h2m9 0h1m-68 1h1m7 0h1m5 0h1m1 0h1m5 0h2m1 0h6m4 0h3m7 0h1m3 0h1m2 0h1m2 0h1m2 0h1m14 0h1m-72 1h1m5 0h1m10 0h1m2 0h3m2 0h1m1 0h1m1 0h1m2 0h1m2 0h1m1 0h2m1 0h1m4 0h1m2 0h1m8 0h1m8 0h1m-59 1h1m2 0h1m3 0h1m1 0h1m4 0h1m3 0h1m3 0h1m1 0h7m1 0h1m1 0h1m1 0h1m6 0h2m-52 1h1m12 0h1m2 0h1m2 0h1m6 0h2m3 0h3m4 0h1m3 0h1m8 0h1m2 0h1m5 0h1m5 0h1" stroke="#000" stroke-width="1" fill="none"/><path d="M356 295.5h2m2 1h1m-9 1h1m6 0h1m6 0h1m-12 1h1m3 0h1m-5 1h3m1 0h3m1 0h1m2 0h1m-11 1h1m1 0h1m2 0h1m1 0h2m-11 1h1m1 0h6m1 0h1m1 0h1m1 0h1m-16 1h1m1 0h3m2 0h3m1 0h1m2 0h1m-14 1h7m1 0h3m2 0h2m-18 1h6m3 0h5m-17 1h1m1 0h1m2 0h2m1 0h8m1 0h1m1 0h2m-17 1h16m-16 1h1m1 0h7m1 0h4m1 0h1m2 0h1m-23 1h1m2 0h18m-21 1h1m3 0h15m-22 1h1m6 0h15m3 0h1m-21 1h12m1 0h5m-19 1h4m1 0h13m2 0h1m-24 1h3m1 0h1m2 0h12m-20 1h1m1 0h4m1 0h15m1 0h2m-29 1h2m2 0h2m2 0h2m1 0h9m1 0h3m1 0h1m-20 1h2m3 0h11m1 0h2m1 0h1m1 0h1m-24 1h1m1 0h18m2 0h1m-26 1h2m1 0h2m1 0h3m1 0h13m2 0h1m-29 1h1m2 0h1m2 0h19m2 0h1m-29 1h1m5 0h1m1 0h22m-25 1h18m1 0h2m2 0h1m3 0h1m-34 1h1m1 0h5m1 0h1m1 0h13m1 0h1m-28 1h1m6 0h22m1 0h3m-27 1h1m2 0h19m3 0h1m-29 1h2m1 0h20m1 0h2m3 0h1m-32 1h1m1 0h1m2 0h19m1 0h3m1 0h1m-35 1h1m4 0h2m2 0h5m1 0h19m1 0h1m-30 1h17m1 0h4m1 0h5m-29 1h4m2 0h22m-35 1h2m1 0h2m1 0h1m1 0h1m1 0h7m1 0h17m-40 1h1m3 0h2m1 0h1m1 0h23m1 0h3m2 0h3m-39 1h2m3 0h4m1 0h4m1 0h20m1 0h4m-42 1h1m5 0h1m1 0h26m1 0h4m4 0h1m-50 1h1m1 0h1m2 0h3m3 0h1m1 0h35m-44 1h1m1 0h1m2 0h1m1 0h4m1 0h1m1 0h26m2 0h1m4 0h1m-63 1h1m3 0h1m1 0h1m7 0h3m1 0h2m1 0h3m1 0h3m1 0h26m2 0h1m-70 1h1m23 0h1m1 0h2m2 0h2m1 0h34m3 0h1m-57 1h1m13 0h3m1 0h1m1 0h32m3 0h1m-59 1h2m4 0h1m4 0h1m1 0h2m1 0h3m1 0h32m1 0h2m-84 1h1m34 0h1m1 0h1m1 0h1m2 0h1m2 0h2m1 0h4m1 0h1m1 0h28m4 0h1m-64 1h1m7 0h1m4 0h1m1 0h2m1 0h5m2 0h1m1 0h1m1 0h27m1 0h4m1 0h1m1 0h1m-64 1h1m4 0h1m4 0h1m2 0h4m1 0h6m1 0h33m1 0h1m-69 1h1m14 0h1m5 0h2m2 0h2m2 0h7m1 0h30m3 0h1m-63 1h1m1 0h2m1 0h2m2 0h1m2 0h40m1 0h8m2 0h1m2 0h1m-62 1h1m1 0h1m1 0h1m1 0h1m3 0h45m2 0h1m-66 1h1m5 0h1m6 0h1m1 0h5m1 0h36m2 0h1m8 0h2m-89 1h1m1 0h1m19 0h4m6 0h3m2 0h15m1 0h26m1 0h1m7 0h1m-73 1h1m6 0h1m1 0h1m1 0h2m2 0h3m1 0h2m1 0h1m1 0h40m-69 1h1m10 0h1m2 0h2m1 0h3m3 0h37m1 0h4m1 0h1m2 0h1m1 0h1m1 0h1m3 0h1m-84 1h1m14 0h1m1 0h1m2 0h3m3 0h3m1 0h42m1 0h3m3 0h1m1 0h1m-84 1h1m13 0h1m4 0h2m1 0h2m1 0h1m3 0h44m1 0h2m3 0h2m-80 1h1m2 0h1m13 0h1m1 0h2m1 0h20m1 0h23m1 0h3m2 0h1m3 0h1m-82 1h1m10 0h1m2 0h3m6 0h1m1 0h1m1 0h2m1 0h2m2 0h37m1 0h2m3 0h4m-86 1h1m7 0h1m12 0h1m2 0h1m1 0h1m3 0h1m1 0h2m1 0h42m1 0h1m13 0h1m-74 1h1m5 0h1m5 0h2m1 0h1m1 0h43m2 0h2m1 0h1m-82 1h1m3 0h1m2 0h1m1 0h1m5 0h1m4 0h1m3 0h3m1 0h1m1 0h1m1 0h41m3 0h2m-80 1h1m11 0h2m1 0h2m1 0h1m4 0h1m1 0h2m1 0h1m1 0h45m1 0h3m6 0h1m-78 1h1m6 0h1m5 0h2m3 0h2m1 0h8m1 0h41m1 0h1m1 0h1m-67 1h2m6 0h45m1 0h1m1 0h1m1 0h1m1 0h4m7 0h1m-88 1h1m3 0h1m8 0h1m1 0h2m1 0h1m2 0h2m1 0h2m1 0h1m1 0h10m1 0h32m1 0h1m1 0h3m1 0h1m9 0h1m-86 1h1m2 0h1m1 0h1m2 0h2m1 0h1m2 0h1m5 0h2m1 0h2m1 0h5m1 0h4m1 0h33m5 0h1m4 0h1m-83 1h1m1 0h2m1 0h1m4 0h1m2 0h2m2 0h1m1 0h3m1 0h3m2 0h9m1 0h32m1 0h6m1 0h2m2 0h1m-81 1h1m2 0h2m1 0h1m2 0h3m4 0h3m1 0h1m1 0h2m1 0h39m1 0h1m1 0h2m1 0h1m1 0h1m2 0h1m8 0h1m-83 1h1m1 0h1m3 0h1m3 0h2m2 0h1m2 0h43m2 0h4m1 0h3m1 0h1m-74 1h1m1 0h1m8 0h1m1 0h5m3 0h43m1 0h4m2 0h1m6 0h1m-78 1h1m6 0h1m4 0h5m1 0h2m1 0h7m1 0h34m1 0h2m1 0h5m3 0h2m-81 1h1m1 0h1m1 0h1m1 0h1m2 0h1m1 0h1m6 0h2m1 0h4m1 0h25m1 0h5m1 0h8m1 0h5m1 0h1m1 0h1m3 0h1m-79 1h1m2 0h3m1 0h1m2 0h1m3 0h1m2 0h47m1 0h1m3 0h3m2 0h1m1 0h1m1 0h1m2 0h1m-82 1h1m1 0h5m1 0h2m1 0h1m1 0h1m1 0h2m1 0h1m1 0h25m1 0h15m1 0h2m1 0h3m2 0h1m5 0h1m-79 1h1m1 0h1m2 0h3m1 0h10m1 0h5m2 0h2m1 0h18m1 0h9m1 0h7m1 0h3m1 0h2m1 0h3m1 0h1m-77 1h2m3 0h2m1 0h4m1 0h1m1 0h31m1 0h4m1 0h1m2 0h3m3 0h3m4 0h1m1 0h2m3 0h1m2 0h1m7 0h1m6 0h1m-93 1h4m1 0h2m3 0h1m1 0h39m1 0h2m1 0h3m1 0h1m1 0h3m2 0h1m2 0h2m-74 1h1m4 0h4m1 0h3m1 0h6m2 0h3m1 0h4m1 0h2m1 0h11m1 0h6m1 0h1m1 0h10m1 0h2m2 0h2m-73 1h1m1 0h2m1 0h8m1 0h2m1 0h1m1 0h1m1 0h17m1 0h7m1 0h10m1 0h3m1 0h1m1 0h3m1 0h3m2 0h4m1 0h1m3 0h1m-83 1h1m2 0h1m3 0h1m2 0h3m1 0h3m1 0h3m1 0h7m1 0h20m1 0h1m1 0h4m1 0h1m1 0h5m4 0h1m4 0h1m2 0h1m1 0h1m-79 1h1m2 0h1m2 0h1m1 0h1m2 0h2m1 0h2m1 0h4m1 0h16m1 0h1m1 0h1m2 0h15m1 0h1m2 0h3m2 0h1m4 0h1m1 0h3m-79 1h1m1 0h2m2 0h4m1 0h1m3 0h2m2 0h6m2 0h2m1 0h8m1 0h9m2 0h1m1 0h1m1 0h2m1 0h1m2 0h2m3 0h2m1 0h1m5 0h1m2 0h1m9 0h1m-88 1h2m2 0h1m2 0h3m4 0h1m1 0h3m1 0h14m1 0h14m3 0h1m1 0h6m4 0h1m5 0h1m7 0h1m-78 1h3m1 0h2m1 0h6m1 0h1m1 0h28m2 0h1m2 0h6m1 0h3m1 0h4m3 0h1m1 0h2m3 0h3m1 0h1m3 0h1m13 0h1m-96 1h3m1 0h1m1 0h1m1 0h6m1 0h8m2 0h4m2 0h16m3 0h5m1 0h4m1 0h1m3 0h1m1 0h1m1 0h1m5 0h2m10 0h1m-90 1h1m1 0h1m2 0h1m2 0h20m1 0h5m1 0h11m1 0h1m1 0h1m1 0h1m2 0h3m1 0h5m2 0h1m2 0h1m1 0h1m2 0h2m2 0h1m1 0h1m-80 1h2m2 0h2m2 0h2m2 0h12m1 0h7m1 0h1m2 0h8m1 0h5m2 0h5m3 0h1m3 0h1m2 0h1m1 0h2m1 0h1m1 0h1m1 0h1m13 0h1m-90 1h2m1 0h3m3 0h22m1 0h4m2 0h1m1 0h1m1 0h2m1 0h3m3 0h3m1 0h1m1 0h1m5 0h1m1 0h1m-66 1h2m2 0h8m1 0h12m2 0h10m1 0h5m4 0h1m2 0h4m2 0h1m2 0h1m2 0h1m1 0h2m3 0h1m5 0h1m-77 1h1m2 0h11m1 0h1m1 0h6m1 0h2m1 0h8m2 0h3m1 0h4m1 0h1m3 0h4m2 0h3m1 0h1m3 0h2m1 0h1m2 0h3m10 0h1m-84 1h2m1 0h5m1 0h1m1 0h2m1 0h4m1 0h2m1 0h1m1 0h9m1 0h1m1 0h1m1 0h5m3 0h2m2 0h1m7 0h1m1 0h1m2 0h4m2 0h3m1 0h2m1 0h1m4 0h1m4 0h1m-87 1h1m1 0h2m1 0h11m1 0h5m1 0h11m1 0h4m2 0h1m1 0h2m5 0h2m1 0h1m3 0h1m1 0h1m1 0h1m2 0h2m1 0h2m4 0h1m2 0h3m-79 1h5m1 0h10m1 0h10m1 0h1m1 0h7m1 0h4m6 0h3m4 0h7m4 0h1m1 0h1m2 0h5m5 0h1m-80 1h3m1 0h2m2 0h6m1 0h7m1 0h1m1 0h2m1 0h4m4 0h3m2 0h1m3 0h2m1 0h1m4 0h2m4 0h1m1 0h1m3 0h1m4 0h2m1 0h1m3 0h1m3 0h1m6 0h1m-89 1h1m1 0h3m2 0h8m1 0h2m1 0h2m1 0h1m1 0h5m1 0h1m1 0h5m1 0h1m3 0h4m6 0h1m1 0h1m7 0h1m2 0h1m2 0h1m1 0h1m47 0h1m-121 1h3m1 0h3m1 0h1m3 0h1m2 0h6m1 0h4m2 0h1m2 0h1m1 0h1m1 0h3m3 0h1m1 0h3m1 0h1m2 0h2m1 0h1m3 0h2m7 0h1m6 0h1m4 0h2m2 0h1m19 0h1m-102 1h3m1 0h3m3 0h4m2 0h1m1 0h1m1 0h10m1 0h2m2 0h3m1 0h7m1 0h3m1 0h1m1 0h1m1 0h1m8 0h1m1 0h1m4 0h1m1 0h1m4 0h2m1 0h1m-83 1h1m2 0h4m1 0h10m1 0h13m1 0h2m1 0h2m1 0h1m2 0h2m2 0h2m2 0h1m3 0h1m1 0h1m1 0h1m1 0h1m2 0h2m4 0h1m3 0h1m2 0h1m1 0h1m-79 1h3m1 0h2m2 0h4m1 0h15m2 0h1m1 0h1m3 0h1m1 0h2m4 0h2m2 0h2m7 0h3m1 0h2m2 0h1m11 0h1m-76 1h1m1 0h1m1 0h1m2 0h4m1 0h1m1 0h2m1 0h4m1 0h5m1 0h1m1 0h2m1 0h2m2 0h1m1 0h3m2 0h1m7 0h2m1 0h1m3 0h1m2 0h5m1 0h2m1 0h1m6 0h1m-81 1h2m2 0h4m1 0h3m3 0h4m1 0h2m2 0h1m3 0h2m3 0h4m3 0h4m7 0h1m4 0h1m2 0h2m2 0h1m2 0h2m2 0h1m3 0h2m2 0h2m-78 1h1m1 0h1m1 0h12m1 0h1m1 0h4m3 0h5m2 0h1m9 0h2m3 0h1m2 0h1m4 0h1m2 0h1m4 0h2m1 0h1m11 0h1m-82 1h1m1 0h3m3 0h5m1 0h3m3 0h2m3 0h2m2 0h1m2 0h7m1 0h2m1 0h2m1 0h2m2 0h1m4 0h3m2 0h1m3 0h1m1 0h1m2 0h1m2 0h1m3 0h1m-77 1h2m2 0h2m3 0h1m1 0h7m2 0h1m1 0h1m1 0h5m3 0h3m4 0h1m2 0h1m1 0h3m5 0h1m1 0h3m4 0h1m5 0h1m19 0h1m-87 1h1m1 0h7m1 0h1m1 0h2m1 0h2m3 0h1m2 0h1m1 0h2m1 0h6m1 0h1m2 0h1m4 0h3m2 0h2m2 0h1m18 0h1m-73 1h1m5 0h1m2 0h1m4 0h1m1 0h3m1 0h2m2 0h1m2 0h1m2 0h2m2 0h1m1 0h3m1 0h1m1 0h1m1 0h2m6 0h1m1 0h2m17 0h1m1 0h1m11 0h1m-88 1h2m2 0h1m1 0h1m1 0h4m1 0h2m1 0h7m1 0h1m4 0h3m3 0h1m1 0h1m3 0h1m1 0h2m3 0h1m1 0h2m1 0h1m2 0h1m2 0h1m6 0h2m1 0h1m7 0h1m-74 1h2m2 0h6m2 0h4m1 0h2m1 0h1m1 0h1m2 0h3m2 0h1m1 0h2m2 0h2m3 0h1m4 0h2m1 0h3m8 0h1m7 0h2m-71 1h4m1 0h1m1 0h5m1 0h1m4 0h3m1 0h1m2 0h1m1 0h1m2 0h2m12 0h1m24 0h1m-70 1h1m4 0h2m2 0h1m1 0h1m6 0h2m1 0h2m3 0h1m5 0h2m2 0h1m1 0h1m1 0h2m1 0h3m2 0h3m2 0h1m1 0h1m3 0h1m-62 1h1m1 0h1m2 0h1m4 0h1m2 0h3m2 0h2m1 0h1m6 0h2m2 0h1m1 0h2m4 0h1m5 0h1m2 0h2m13 0h1m2 0h2m-70 1h1m2 0h1m1 0h1m5 0h3m1 0h1m2 0h1m2 0h3m2 0h4m6 0h2m2 0h1m3 0h6m5 0h1m5 0h1m1 0h1m7 0h1m3 0h1m-75 1h1m4 0h1m1 0h1m2 0h2m1 0h3m8 0h3m6 0h1m12 0h2m6 0h1m1 0h1m8 0h1m3 0h1m-71 1h3m4 0h1m5 0h1m3 0h5m1 0h3m3 0h1m1 0h3m2 0h1m1 0h1m1 0h1m6 0h1m4 0h1m1 0h1m1 0h1m2 0h2m-61 1h1m2 0h1m3 0h2m1 0h2m2 0h2m1 0h1m3 0h3m6 0h1m4 0h2m1 0h1m3 0h1m2 0h1m3 0h4m6 0h1m8 0h1m2 0h1m-72 1h1m1 0h1m3 0h1m2 0h1m1 0h1m2 0h1m2 0h2m1 0h1m6 0h5m1 0h1m1 0h3m8 0h1m1 0h1m6 0h1m4 0h2m-62 1h1m2 0h1m5 0h1m4 0h1m1 0h2m1 0h1m3 0h2m6 0h2m2 0h1m4 0h1m1 0h1m15 0h1m4 0h1m5 0h1m-70 1h1m7 0h2m4 0h1m3 0h1m4 0h1m1 0h1m2 0h1m3 0h1m7 0h1m2 0h1m1 0h1m2 0h1m2 0h2m16 0h1m-68 1h1m1 0h1m4 0h3m1 0h1m3 0h1m3 0h1m1 0h1m4 0h1m10 0h2m1 0h1m2 0h3m9 0h1m9 0h1m-61 1h1m10 0h2m1 0h2m1 0h1m5 0h1m1 0h1m5 0h1m27 0h1m-56 1h1m3 0h1m1 0h1m1 0h2m2 0h1m1 0h1m5 0h1m1 0h1m1 0h1m2 0h3m7 0h1m3 0h1m-44 1h1m1 0h1m2 0h3m4 0h2m4 0h1m4 0h2m7 0h1m7 0h1m7 0h1m30 0h1m-88 1h1m4 0h1m7 0h1m5 0h2m3 0h1m1 0h3m1 0h1m1 0h1m3 0h3m32 0h1m-63 1h1m7 0h2m3 0h2m6 0h1m3 0h1m4 0h1m32 0h1m-73 1h1m13 0h1m4 0h1m2 0h1m5 0h1m8 0h2m49 0h1m-87 1h1m9 0h1m5 0h1m10 0h1m11 0h1m6 0h1m11 0h1" stroke="#000" stroke-width="1" fill="none"/><path d="M486 297.5h1m-4 1h1m2 0h1m1 0h1m-10 1h1m2 0h1m1 0h1m-9 1h1m1 0h1m2 0h1m2 0h2m-15 1h1m10 0h3m2 0h1m-9 1h1m4 0h1m2 0h1m3 0h1m-13 1h1m1 0h2m1 0h2m4 0h1m-16 1h1m7 0h4m1 0h1m1 0h1m-14 1h1m1 0h3m1 0h4m-13 1h1m3 0h2m2 0h3m1 0h2m2 0h1m-14 1h15m-20 1h1m4 0h1m1 0h12m2 0h1m-20 1h1m1 0h12m5 0h2m-18 1h15m-18 1h17m1 0h2m-24 1h1m1 0h2m2 0h14m-18 1h1m1 0h3m1 0h15m-19 1h3m1 0h11m1 0h1m-20 1h1m1 0h1m1 0h13m2 0h1m-19 1h2m1 0h14m2 0h1m-26 1h1m4 0h1m1 0h18m1 0h1m-20 1h2m1 0h12m1 0h2m1 0h1m-24 1h1m2 0h1m1 0h16m-25 1h1m3 0h1m1 0h1m1 0h17m1 0h2m-25 1h2m2 0h19m-23 1h3m1 0h18m-20 1h20m3 0h1m-92 1h1m64 0h1m1 0h21m1 0h1m-23 1h1m1 0h1m1 0h14m2 0h3m-23 1h22m-24 1h1m1 0h1m1 0h19m1 0h2m-29 1h1m1 0h1m2 0h22m1 0h1m-30 1h1m4 0h1m1 0h15m1 0h2m1 0h1m2 0h1m1 0h1m-31 1h2m1 0h24m-30 1h1m2 0h1m2 0h2m1 0h14m1 0h3m1 0h1m-29 1h1m1 0h2m1 0h1m1 0h19m1 0h2m2 0h1m-28 1h23m-22 1h23m2 0h1m-32 1h1m2 0h1m1 0h23m1 0h2m-31 1h1m1 0h1m4 0h21m-33 1h1m4 0h2m1 0h25m-30 1h1m1 0h1m2 0h23m2 0h2m2 0h1m-40 1h1m2 0h2m2 0h1m1 0h5m1 0h20m-34 1h2m5 0h2m1 0h21m4 0h2m-35 1h1m2 0h1m1 0h3m1 0h17m1 0h1m5 0h1m-30 1h21m1 0h1m1 0h1m5 0h1m3 0h1m-42 1h2m1 0h1m2 0h5m1 0h19m1 0h4m-34 1h1m3 0h27m-31 1h1m1 0h2m1 0h20m1 0h3m1 0h2m2 0h1m-39 1h2m1 0h28m1 0h2m2 0h1m-37 1h2m3 0h1m1 0h3m1 0h27m-88 1h1m44 0h3m1 0h2m1 0h3m2 0h1m1 0h24m2 0h1m-88 1h1m42 0h1m2 0h2m1 0h2m1 0h2m2 0h1m1 0h21m1 0h6m2 0h1m-75 1h1m26 0h2m1 0h1m3 0h1m1 0h1m1 0h27m1 0h1m3 0h1m1 0h1m-87 1h1m2 0h1m27 0h1m7 0h1m7 0h1m2 0h1m1 0h3m1 0h3m1 0h19m1 0h1m1 0h1m1 0h1m-84 1h1m35 0h1m1 0h1m3 0h1m1 0h4m1 0h1m1 0h2m1 0h6m1 0h19m2 0h1m1 0h1m-44 1h1m1 0h1m1 0h4m1 0h26m1 0h1m1 0h1m3 0h2m-77 1h1m32 0h1m3 0h31m1 0h2m2 0h1m5 0h1m-87 1h1m36 0h2m2 0h2m4 0h1m1 0h28m3 0h1m1 0h1m-82 1h1m1 0h1m31 0h1m3 0h1m1 0h1m1 0h2m1 0h25m1 0h4m1 0h1m1 0h1m-82 1h1m6 0h2m21 0h1m4 0h1m2 0h1m3 0h4m1 0h6m2 0h16m1 0h3m1 0h2m1 0h1m-79 1h1m34 0h1m10 0h25m1 0h3m2 0h1m1 0h1m-50 1h1m6 0h2m2 0h2m2 0h6m1 0h17m1 0h2m1 0h1m3 0h1m-78 1h1m1 0h1m13 0h2m13 0h1m3 0h1m1 0h1m3 0h2m1 0h5m1 0h7m1 0h11m3 0h1m4 0h1m2 0h1m-69 1h1m11 0h1m2 0h1m3 0h1m3 0h1m2 0h1m1 0h1m2 0h30m1 0h1m-77 1h1m22 0h1m13 0h3m1 0h6m1 0h26m1 0h1m-76 1h1m1 0h2m19 0h2m4 0h1m2 0h1m4 0h1m1 0h3m1 0h22m1 0h2m1 0h1m1 0h1m1 0h2m-72 1h1m5 0h1m22 0h1m2 0h8m1 0h25m1 0h6m-74 1h1m1 0h1m19 0h1m7 0h1m2 0h1m1 0h2m1 0h3m1 0h4m1 0h23m1 0h2m-69 1h1m7 0h1m16 0h12m1 0h18m1 0h1m1 0h2m1 0h5m1 0h1m1 0h1m-70 1h1m8 0h1m9 0h1m5 0h1m1 0h2m2 0h4m1 0h3m1 0h1m1 0h16m1 0h3m3 0h1m2 0h1m-74 1h1m2 0h1m13 0h1m1 0h2m1 0h5m4 0h2m4 0h25m1 0h2m1 0h1m1 0h1m1 0h2m-74 1h1m1 0h1m2 0h1m4 0h2m4 0h1m4 0h3m1 0h3m2 0h1m1 0h8m1 0h22m1 0h3m1 0h6m-72 1h1m2 0h2m1 0h1m2 0h2m3 0h1m3 0h1m1 0h2m4 0h1m1 0h5m1 0h1m1 0h29m2 0h3m1 0h1m-74 1h3m1 0h1m2 0h1m13 0h1m2 0h3m1 0h1m1 0h1m1 0h1m1 0h5m1 0h1m1 0h25m1 0h2m2 0h1m-72 1h1m1 0h1m2 0h1m2 0h1m2 0h3m2 0h1m5 0h1m3 0h4m2 0h3m1 0h1m1 0h25m1 0h3m3 0h1m4 0h1m-76 1h2m1 0h3m2 0h2m1 0h1m2 0h3m1 0h3m2 0h2m2 0h2m2 0h1m1 0h9m1 0h25m1 0h2m3 0h1m-76 1h3m3 0h2m8 0h2m1 0h1m1 0h1m2 0h1m2 0h6m1 0h26m1 0h4m1 0h1m1 0h2m1 0h3m1 0h1m-74 1h3m1 0h2m1 0h1m2 0h2m1 0h1m1 0h2m1 0h1m4 0h1m1 0h1m1 0h2m1 0h34m1 0h2m4 0h1m1 0h1m-74 1h1m1 0h2m2 0h1m2 0h1m3 0h1m3 0h2m1 0h1m1 0h1m2 0h2m1 0h3m1 0h30m1 0h6m3 0h1m-72 1h1m3 0h3m3 0h1m2 0h1m3 0h1m1 0h1m1 0h8m1 0h37m2 0h1m-73 1h1m1 0h1m1 0h1m1 0h1m3 0h2m1 0h1m1 0h1m1 0h4m3 0h1m1 0h1m1 0h1m1 0h1m1 0h3m1 0h30m1 0h2m1 0h1m2 0h1m-73 1h3m1 0h8m2 0h1m3 0h1m2 0h4m1 0h4m1 0h30m4 0h4m2 0h1m-72 1h1m1 0h4m1 0h3m1 0h1m1 0h4m1 0h3m1 0h2m1 0h1m1 0h1m1 0h2m1 0h27m1 0h4m1 0h1m1 0h1m1 0h1m8 0h2m-80 1h1m1 0h3m2 0h2m3 0h1m1 0h2m4 0h1m1 0h2m2 0h1m1 0h21m1 0h11m1 0h6m1 0h1m1 0h1m-73 1h7m1 0h1m1 0h4m3 0h1m1 0h1m1 0h16m1 0h22m2 0h6m7 0h1m-76 1h6m1 0h4m1 0h1m3 0h5m1 0h3m1 0h1m1 0h31m1 0h3m1 0h1m1 0h4m-69 1h1m1 0h3m2 0h2m1 0h3m2 0h1m2 0h1m1 0h4m2 0h5m1 0h32m2 0h2m3 0h1m-71 1h1m1 0h3m1 0h5m1 0h3m3 0h1m1 0h4m1 0h1m1 0h5m1 0h30m1 0h1m1 0h2m3 0h1m1 0h1m-76 1h2m1 0h8m2 0h1m1 0h4m1 0h1m1 0h2m1 0h9m1 0h23m1 0h5m2 0h1m2 0h2m2 0h1m1 0h1m-76 1h8m1 0h1m1 0h1m2 0h4m1 0h3m1 0h2m1 0h4m1 0h37m2 0h1m3 0h1m-75 1h7m2 0h1m2 0h2m1 0h45m2 0h5m1 0h1m1 0h1m-70 1h1m1 0h3m1 0h3m2 0h7m2 0h5m1 0h2m1 0h7m1 0h27m1 0h1m1 0h1m2 0h2m7 0h1m-80 1h6m3 0h1m1 0h1m2 0h3m2 0h2m2 0h1m1 0h3m1 0h37m1 0h2m2 0h1m-73 1h12m1 0h4m1 0h5m3 0h1m1 0h2m1 0h27m1 0h7m1 0h1m11 0h1m2 0h1m-83 1h3m1 0h14m1 0h7m1 0h2m1 0h24m1 0h10m1 0h1m4 0h1m2 0h2m-75 1h5m1 0h2m1 0h4m1 0h1m1 0h4m1 0h5m1 0h33m1 0h3m2 0h1m3 0h2m13 0h1m-85 1h5m1 0h9m1 0h3m1 0h4m1 0h27m1 0h5m1 0h2m2 0h2m1 0h2m-70 1h1m1 0h2m1 0h5m3 0h2m1 0h2m1 0h2m1 0h9m1 0h19m1 0h2m1 0h8m2 0h1m1 0h1m6 0h1m-75 1h2m1 0h5m1 0h9m1 0h10m1 0h35m5 0h3m-73 1h2m1 0h9m2 0h4m1 0h2m1 0h6m1 0h30m2 0h2m1 0h1m1 0h2m1 0h1m-70 1h23m2 0h31m1 0h8m1 0h2m4 0h1m-73 1h5m1 0h4m1 0h2m1 0h10m1 0h31m1 0h4m1 0h4m13 0h1m-80 1h1m1 0h2m1 0h3m1 0h5m1 0h6m1 0h37m1 0h1m1 0h2m2 0h5m2 0h1m-73 1h9m2 0h2m1 0h3m2 0h7m1 0h18m1 0h11m1 0h4m3 0h2m1 0h1m5 0h1m-76 1h4m1 0h3m3 0h8m1 0h42m2 0h1m3 0h1m2 0h1m-72 1h2m1 0h1m1 0h1m2 0h7m1 0h1m2 0h11m1 0h27m1 0h2m1 0h2m1 0h2m7 0h1m-75 1h7m1 0h8m1 0h8m1 0h34m3 0h1m8 0h1m-73 1h10m1 0h5m2 0h36m1 0h5m1 0h1m1 0h1m3 0h1m-68 1h8m2 0h4m1 0h6m1 0h10m1 0h3m1 0h6m1 0h9m1 0h10m5 0h1m1 0h1m-72 1h1m1 0h5m1 0h6m1 0h3m1 0h14m1 0h10m1 0h5m1 0h5m3 0h3m1 0h4m-66 1h1m1 0h1m1 0h5m1 0h5m1 0h3m2 0h32m2 0h3m1 0h1m1 0h1m1 0h3m-66 1h2m1 0h2m1 0h1m2 0h2m3 0h3m1 0h1m1 0h8m1 0h1m1 0h26m1 0h3m2 0h1m3 0h2m2 0h1m-73 1h1m1 0h2m1 0h2m1 0h3m1 0h1m1 0h1m2 0h37m1 0h3m2 0h1m1 0h1m1 0h1m2 0h1m-68 1h2m1 0h2m1 0h4m1 0h10m1 0h8m1 0h2m1 0h1m1 0h7m1 0h1m1 0h6m1 0h4m2 0h4m2 0h3m2 0h1m-70 1h1m1 0h9m2 0h5m1 0h1m1 0h2m2 0h5m1 0h12m1 0h7m2 0h4m1 0h1m1 0h3m1 0h1m9 0h1m-76 1h2m1 0h1m1 0h1m1 0h4m1 0h43m1 0h1m1 0h1m1 0h2m1 0h1m1 0h1m2 0h1m1 0h1m-70 1h4m1 0h3m1 0h2m2 0h5m1 0h4m1 0h1m1 0h26m1 0h3m1 0h4m1 0h1m5 0h1m-69 1h3m1 0h6m1 0h7m1 0h10m2 0h19m1 0h5m5 0h1m1 0h2m4 0h2m-71 1h2m5 0h1m1 0h2m1 0h2m2 0h2m2 0h4m1 0h3m1 0h1m1 0h2m1 0h15m1 0h1m1 0h6m1 0h1m4 0h1m3 0h1m1 0h1m-72 1h1m1 0h2m1 0h1m1 0h4m2 0h2m1 0h8m1 0h5m1 0h2m1 0h5m1 0h12m1 0h4m1 0h1m2 0h1m2 0h1m2 0h2m-69 1h1m1 0h6m1 0h1m1 0h7m1 0h3m1 0h1m1 0h4m1 0h12m1 0h6m1 0h3m1 0h1m1 0h3m2 0h1m-62 1h5m1 0h6m1 0h1m1 0h2m4 0h3m1 0h1m1 0h1m1 0h4m1 0h1m1 0h16m1 0h2m4 0h1m2 0h3m13 0h1m-77 1h2m1 0h1m2 0h2m2 0h1m5 0h1m3 0h3m2 0h2m1 0h1m1 0h4m1 0h12m1 0h1m1 0h1m3 0h1m2 0h1m-57 1h1m1 0h1m1 0h3m1 0h2m1 0h1m1 0h1m1 0h1m1 0h1m2 0h8m1 0h1m1 0h18m1 0h3m1 0h1m5 0h1" stroke="#000" stroke-width="1" fill="none"/>
<rect x="16" y="289.8" width="123" height="132.9" fill="none" stroke="#7a7a7a" stroke-width="1.1"/>
<rect x="142.7" y="289.8" width="122.69999999999999" height="132.9" fill="none" stroke="#7a7a7a" stroke-width="1.1"/>
<rect x="271.3" y="289.8" width="123.09999999999997" height="132.9" fill="none" stroke="#7a7a7a" stroke-width="1.1"/>
<rect x="397.7" y="289.8" width="132.3" height="132.9" fill="none" stroke="#7a7a7a" stroke-width="1.1"/>
<rect x="85.6" y="297.4" width="33.900000000000006" height="94.3" fill="none" stroke="#7a7a7a" stroke-width="1.1"/>
<rect x="212.3" y="297.4" width="33.69999999999999" height="94.3" fill="none" stroke="#7a7a7a" stroke-width="1.1"/>
<rect x="340.7" y="297.4" width="33.80000000000001" height="94.3" fill="none" stroke="#7a7a7a" stroke-width="1.1"/>
<rect x="466.3" y="297.4" width="34.0" height="94.3" fill="none" stroke="#7a7a7a" stroke-width="1.1"/>
<text transform="translate(54.5,318.0) scale(1,1.05)" font-size="14.8" text-anchor="middle" textLength="19" lengthAdjust="spacingAndGlyphs" >GC</text>
<text transform="translate(54.5,333.36) scale(1,1.05)" font-size="13.8" text-anchor="middle" >4.14</text>
<text transform="translate(181.5,315.8) scale(1,1.05)" font-size="14.8" text-anchor="middle" textLength="19" lengthAdjust="spacingAndGlyphs" >GC</text>
<text transform="translate(181.5,331.6) scale(1,1.05)" font-size="13.8" text-anchor="middle" >4.81</text>
<text transform="translate(307.5,315.8) scale(1,1.05)" font-size="14.8" text-anchor="middle" textLength="19" lengthAdjust="spacingAndGlyphs" >GC</text>
<text transform="translate(307.5,331.6) scale(1,1.05)" font-size="13.8" text-anchor="middle" >29</text>
<text transform="translate(433.8,315.8) scale(1,1.05)" font-size="14.8" text-anchor="middle" textLength="19" lengthAdjust="spacingAndGlyphs" >GC</text>
<text transform="translate(433.8,331.6) scale(1,1.05)" font-size="13.8" text-anchor="middle" >15.3</text>
<line x1="9.6" y1="300" x2="9.6" y2="369.5" stroke="#000" stroke-width="2.4"/>
<path d="M9.6 290.8L13.8 302.6L5.4 302.6Z" fill="#000"/>
<line x1="63.8" y1="431.6" x2="511" y2="431.6" stroke="#000" stroke-width="2.2"/>
<path d="M521 431.6L508.5 426.9L508.5 436.3Z" fill="#000"/>
<text transform="translate(14.8,414.6) rotate(-90) scale(1,1.05)" font-size="14" font-weight="bold" textLength="28.6" lengthAdjust="spacingAndGlyphs">GL7</text>
<text transform="translate(24.6,434.6) scale(1,1.05)" font-size="14" text-anchor="start" font-weight="bold" textLength="29.2" lengthAdjust="spacingAndGlyphs" >FAS</text>
<text transform="translate(-2.6,467.3) scale(1,1.05)" font-size="26.5" text-anchor="start" font-weight="bold" >D</text>
<text transform="translate(102.5,463) scale(1,1.05)" font-size="15" text-anchor="middle" font-weight="bold" textLength="47.8" lengthAdjust="spacingAndGlyphs" >Spleen</text>
<text transform="translate(232.2,463) scale(1,1.05)" font-size="15" text-anchor="middle" font-weight="bold" textLength="33" lengthAdjust="spacingAndGlyphs" >mLN</text>
<line x1="84.2" y1="479.2" x2="84.2" y2="617.7" stroke="#000" stroke-width="1.9"/>
<line x1="80.4" y1="616.7" x2="128" y2="616.7" stroke="#000" stroke-width="1.9"/>
<line x1="80.4" y1="616.7" x2="84.2" y2="616.7" stroke="#000" stroke-width="1.7"/>
<text transform="translate(78.3,622.4000000000001) scale(1,1.05)" font-size="16" text-anchor="end" >0</text>
<line x1="80.4" y1="577.8000000000001" x2="84.2" y2="577.8000000000001" stroke="#000" stroke-width="1.7"/>
<text transform="translate(78.3,583.5000000000001) scale(1,1.05)" font-size="16" text-anchor="end" >10</text>
<line x1="80.4" y1="538.9000000000001" x2="84.2" y2="538.9000000000001" stroke="#000" stroke-width="1.7"/>
<text transform="translate(78.3,544.6000000000001) scale(1,1.05)" font-size="16" text-anchor="end" >20</text>
<line x1="80.4" y1="500.00000000000006" x2="84.2" y2="500.00000000000006" stroke="#000" stroke-width="1.7"/>
<text transform="translate(78.3,505.70000000000005) scale(1,1.05)" font-size="16" text-anchor="end" >30</text>
<line x1="107" y1="616.7" x2="107" y2="621.5" stroke="#000" stroke-width="1.7"/>
<text transform="translate(107.2,634.6) scale(1,1.05)" font-size="14.2" text-anchor="middle" textLength="21.5" lengthAdjust="spacingAndGlyphs" >GC</text>
<text transform="translate(55.2,602) rotate(-90) scale(1,1.05)" font-size="15" textLength="115.4" lengthAdjust="spacingAndGlyphs">Nb of cells (x10<tspan dy="-6" font-size="10.5">5</tspan><tspan dy="6">)</tspan></text>
<line x1="92.5" y1="605.8" x2="92.5" y2="600.5" stroke="#000" stroke-width="1.4"/>
<line x1="90.25" y1="600.5" x2="94.75" y2="600.5" stroke="#000" stroke-width="1.6"/>
<rect x="89.25" y="606.55" width="6.50" height="10.15" fill="#fff" stroke="#000" stroke-width="1.5"/>
<line x1="102.1" y1="602" x2="102.1" y2="601" stroke="#000" stroke-width="1.4"/>
<line x1="99.85" y1="601" x2="104.35" y2="601" stroke="#000" stroke-width="1.6"/>
<rect x="99.15" y="602.75" width="5.90" height="13.95" fill="url(#hw)" stroke="#000" stroke-width="1.5"/>
<line x1="111.9" y1="515.8" x2="111.9" y2="492.7" stroke="#000" stroke-width="1.4"/>
<line x1="109.65" y1="492.7" x2="114.15" y2="492.7" stroke="#000" stroke-width="1.6"/>
<rect x="108.75" y="516.55" width="6.30" height="100.15" fill="#929292" stroke="#000" stroke-width="1.5"/>
<line x1="121.4" y1="602.6" x2="121.4" y2="601.8" stroke="#000" stroke-width="1.4"/>
<line x1="119.15" y1="601.8" x2="123.65" y2="601.8" stroke="#000" stroke-width="1.6"/>
<rect x="118.05" y="603.35" width="6.70" height="13.35" fill="url(#hg)" stroke="#000" stroke-width="1.5"/>
<line x1="110.4" y1="484.2" x2="126.5" y2="484.2" stroke="#000" stroke-width="1.9"/>
<polygon points="112.30,475.90 113.06,477.85 115.15,477.97 113.54,479.30 114.06,481.33 112.30,480.20 110.54,481.33 111.06,479.30 109.45,477.97 111.54,477.85" fill="#000"/>
<polygon points="118.40,475.90 119.16,477.85 121.25,477.97 119.64,479.30 120.16,481.33 118.40,480.20 116.64,481.33 117.16,479.30 115.55,477.97 117.64,477.85" fill="#000"/>
<polygon points="124.50,475.90 125.26,477.85 127.35,477.97 125.74,479.30 126.26,481.33 124.50,480.20 122.74,481.33 123.26,479.30 121.65,477.97 123.74,477.85" fill="#000"/>
<line x1="188.2" y1="473.7" x2="188.2" y2="618.3" stroke="#000" stroke-width="1.9"/>
<line x1="183.7" y1="617.3" x2="285" y2="617.3" stroke="#000" stroke-width="1.9"/>
<line x1="183.7" y1="617.3" x2="188.2" y2="617.3" stroke="#000" stroke-width="1.7"/>
<text transform="translate(182.6,623.0) scale(1,1.05)" font-size="15.5" text-anchor="end" >0</text>
<line x1="183.7" y1="576.3" x2="188.2" y2="576.3" stroke="#000" stroke-width="1.7"/>
<text transform="translate(182.6,582.0) scale(1,1.05)" font-size="15.5" text-anchor="end" >10</text>
<line x1="183.7" y1="535.3" x2="188.2" y2="535.3" stroke="#000" stroke-width="1.7"/>
<text transform="translate(182.6,541.0) scale(1,1.05)" font-size="15.5" text-anchor="end" >20</text>
<line x1="183.7" y1="494.29999999999995" x2="188.2" y2="494.29999999999995" stroke="#000" stroke-width="1.7"/>
<text transform="translate(182.6,499.99999999999994) scale(1,1.05)" font-size="15.5" text-anchor="end" >30</text>
<line x1="212.6" y1="617.3" x2="212.6" y2="622" stroke="#000" stroke-width="1.7"/>
<line x1="261" y1="617.3" x2="261" y2="622" stroke="#000" stroke-width="1.7"/>
<text transform="translate(212.9,635.6) scale(1,1.05)" font-size="14.2" text-anchor="middle" textLength="31.8" lengthAdjust="spacingAndGlyphs" >Total</text>
<text transform="translate(259.4,635.6) scale(1,1.05)" font-size="14.2" text-anchor="middle" textLength="21.2" lengthAdjust="spacingAndGlyphs" >GC</text>
<text transform="translate(156.5,599.7) rotate(-90) scale(1,1.05)" font-size="14.8" textLength="115.5" lengthAdjust="spacingAndGlyphs">Nb of cells (x10<tspan dy="-6" font-size="10.5">6</tspan><tspan dy="6">)</tspan></text>
<line x1="196.95" y1="587.7" x2="196.95" y2="587" stroke="#000" stroke-width="1.4"/>
<line x1="194.7" y1="587" x2="199.2" y2="587" stroke="#000" stroke-width="1.6"/>
<rect x="193.85" y="588.45" width="6.20" height="28.85" fill="#fff" stroke="#000" stroke-width="1.5"/>
<line x1="206.95" y1="565.4" x2="206.95" y2="562.7" stroke="#000" stroke-width="1.4"/>
<line x1="204.7" y1="562.7" x2="209.2" y2="562.7" stroke="#000" stroke-width="1.6"/>
<rect x="203.85" y="566.15" width="6.20" height="51.15" fill="url(#hw)" stroke="#000" stroke-width="1.5"/>
<line x1="217.25" y1="501.2" x2="217.25" y2="483" stroke="#000" stroke-width="1.4"/>
<line x1="215.0" y1="483" x2="219.5" y2="483" stroke="#000" stroke-width="1.6"/>
<rect x="214.05" y="501.95" width="6.40" height="115.35" fill="#929292" stroke="#000" stroke-width="1.5"/>
<line x1="227.4" y1="586.2" x2="227.4" y2="579" stroke="#000" stroke-width="1.4"/>
<line x1="225.15" y1="579" x2="229.65" y2="579" stroke="#000" stroke-width="1.6"/>
<rect x="224.05" y="586.95" width="6.70" height="30.35" fill="url(#hg)" stroke="#000" stroke-width="1.5"/>
<rect x="243.25" y="617.55" width="6.20" height="0.10" fill="#fff" stroke="#000" stroke-width="1.5"/>
<line x1="255.45" y1="615.3" x2="255.45" y2="610.5" stroke="#000" stroke-width="1.4"/>
<line x1="253.2" y1="610.5" x2="257.7" y2="610.5" stroke="#000" stroke-width="1.6"/>
<rect x="252.35" y="616.05" width="6.20" height="1.25" fill="url(#hw)" stroke="#000" stroke-width="1.5"/>
<line x1="265.1" y1="583.8" x2="265.1" y2="580.5" stroke="#000" stroke-width="1.4"/>
<line x1="262.85" y1="580.5" x2="267.35" y2="580.5" stroke="#000" stroke-width="1.6"/>
<rect x="262.05" y="584.55" width="6.10" height="32.75" fill="#929292" stroke="#000" stroke-width="1.5"/>
<line x1="275.1" y1="610.8" x2="275.1" y2="609.8" stroke="#000" stroke-width="1.4"/>
<line x1="272.85" y1="609.8" x2="277.35" y2="609.8" stroke="#000" stroke-width="1.6"/>
<rect x="272.05" y="611.55" width="6.10" height="5.75" fill="url(#hg)" stroke="#000" stroke-width="1.5"/>
<line x1="193.2" y1="547.9" x2="210.1" y2="547.9" stroke="#000" stroke-width="1.9"/>
<polygon points="195.55,539.60 196.31,541.55 198.40,541.67 196.79,543.00 197.31,545.03 195.55,543.90 193.79,545.03 194.31,543.00 192.70,541.67 194.79,541.55" fill="#000"/>
<polygon points="201.65,539.60 202.41,541.55 204.50,541.67 202.89,543.00 203.41,545.03 201.65,543.90 199.89,545.03 200.41,543.00 198.80,541.67 200.89,541.55" fill="#000"/>
<polygon points="207.75,539.60 208.51,541.55 210.60,541.67 208.99,543.00 209.51,545.03 207.75,543.90 205.99,545.03 206.51,543.00 204.90,541.67 206.99,541.55" fill="#000"/>
<line x1="215.5" y1="478.8" x2="232" y2="478.8" stroke="#000" stroke-width="1.9"/>
<polygon points="217.65,470.50 218.41,472.45 220.50,472.57 218.89,473.90 219.41,475.93 217.65,474.80 215.89,475.93 216.41,473.90 214.80,472.57 216.89,472.45" fill="#000"/>
<polygon points="223.75,470.50 224.51,472.45 226.60,472.57 224.99,473.90 225.51,475.93 223.75,474.80 221.99,475.93 222.51,473.90 220.90,472.57 222.99,472.45" fill="#000"/>
<polygon points="229.85,470.50 230.61,472.45 232.70,472.57 231.09,473.90 231.61,475.93 229.85,474.80 228.09,475.93 228.61,473.90 227.00,472.57 229.09,472.45" fill="#000"/>
<line x1="240.5" y1="596.3" x2="257.5" y2="596.3" stroke="#000" stroke-width="1.9"/>
<polygon points="242.90,588.00 243.66,589.95 245.75,590.07 244.14,591.40 244.66,593.43 242.90,592.30 241.14,593.43 241.66,591.40 240.05,590.07 242.14,589.95" fill="#000"/>
<polygon points="249.00,588.00 249.76,589.95 251.85,590.07 250.24,591.40 250.76,593.43 249.00,592.30 247.24,593.43 247.76,591.40 246.15,590.07 248.24,589.95" fill="#000"/>
<polygon points="255.10,588.00 255.86,589.95 257.95,590.07 256.34,591.40 256.86,593.43 255.10,592.30 253.34,593.43 253.86,591.40 252.25,590.07 254.34,589.95" fill="#000"/>
<line x1="263.2" y1="573.2" x2="281" y2="573.2" stroke="#000" stroke-width="1.9"/>
<polygon points="266.00,564.90 266.76,566.85 268.85,566.97 267.24,568.30 267.76,570.33 266.00,569.20 264.24,570.33 264.76,568.30 263.15,566.97 265.24,566.85" fill="#000"/>
<polygon points="272.10,564.90 272.86,566.85 274.95,566.97 273.34,568.30 273.86,570.33 272.10,569.20 270.34,570.33 270.86,568.30 269.25,566.97 271.34,566.85" fill="#000"/>
<polygon points="278.20,564.90 278.96,566.85 281.05,566.97 279.44,568.30 279.96,570.33 278.20,569.20 276.44,570.33 276.96,568.30 275.35,566.97 277.44,566.85" fill="#000"/>
<rect x="306.4" y="486.40000000000003" width="18.6" height="10.6" fill="#fff" stroke="#000" stroke-width="1.2"/>
<text transform="translate(328.2,496.5) scale(1,1.05)" font-size="14.5" text-anchor="start" textLength="28.3" lengthAdjust="spacingAndGlyphs" >SPF</text>
<rect x="306.4" y="501.8" width="18.6" height="10.6" fill="url(#hw)" stroke="#000" stroke-width="1.2"/>
<text transform="translate(328.2,511.9) scale(1,1.05)" font-size="14.5" text-anchor="start" textLength="19.1" lengthAdjust="spacingAndGlyphs" >GF</text>
<rect x="306.4" y="520.3000000000001" width="18.6" height="10.6" fill="#929292" stroke="#000" stroke-width="1.2"/>
<text transform="translate(328.2,530.4000000000001) scale(1,1.05)" font-size="14.5" text-anchor="start" textLength="28.3" lengthAdjust="spacingAndGlyphs" >SPF</text>
<rect x="306.4" y="536.0" width="18.6" height="10.6" fill="url(#hg)" stroke="#000" stroke-width="1.2"/>
<text transform="translate(328.2,546.1) scale(1,1.05)" font-size="14.5" text-anchor="start" textLength="19.1" lengthAdjust="spacingAndGlyphs" >GF</text>
<line x1="366.6" y1="485.8" x2="366.6" y2="512.3" stroke="#000" stroke-width="1.9"/>
<line x1="366.6" y1="519.7" x2="366.6" y2="547" stroke="#000" stroke-width="1.9"/>
<text transform="translate(371,506.5) scale(1,1.05)" font-size="14.5" text-anchor="start" textLength="21.3" lengthAdjust="spacingAndGlyphs" >WT</text>
<text transform="translate(368.8,538.8) scale(1,1.05)" font-size="14.5" text-anchor="start" textLength="43.8" lengthAdjust="spacingAndGlyphs" >AIDμS</text>
</svg></body></html>
